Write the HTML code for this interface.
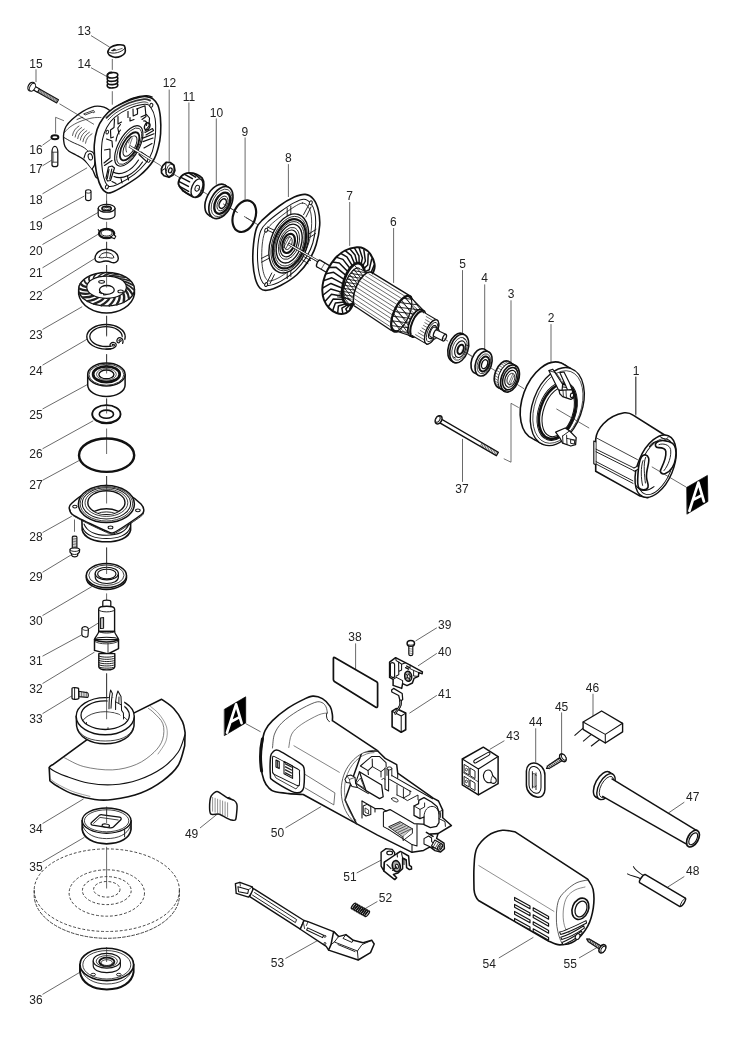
<!DOCTYPE html>
<html><head><meta charset="utf-8"><title>Parts diagram</title>
<style>
html,body{margin:0;padding:0;background:#fff;}
svg{display:block;font-family:"Liberation Sans",sans-serif;will-change:transform;}
text{fill:#222;}
</style></head><body>
<svg width="730" height="1041" viewBox="0 0 730 1041">
<rect width="730" height="1041" fill="#fff"/>
<line x1="91" y1="35.6" x2="109.6" y2="47.1" stroke="#2a2a2a" stroke-width="0.7" />
<line x1="91" y1="67.7" x2="107.1" y2="76.7" stroke="#2a2a2a" stroke-width="0.7" />
<line x1="36" y1="69.3" x2="36" y2="82.1" stroke="#2a2a2a" stroke-width="0.7" />
<line x1="42.5" y1="193.8" x2="87.1" y2="167.8" stroke="#2a2a2a" stroke-width="0.7" />
<line x1="42.5" y1="219" x2="84.4" y2="196" stroke="#2a2a2a" stroke-width="0.7" />
<line x1="42.5" y1="244.5" x2="98" y2="212.5" stroke="#2a2a2a" stroke-width="0.7" />
<line x1="42.5" y1="267.8" x2="99.2" y2="233.6" stroke="#2a2a2a" stroke-width="0.7" />
<line x1="42.5" y1="291" x2="95.3" y2="258.2" stroke="#2a2a2a" stroke-width="0.7" />
<line x1="42.5" y1="329.5" x2="82.2" y2="306.7" stroke="#2a2a2a" stroke-width="0.7" />
<line x1="42.5" y1="365.2" x2="87.1" y2="339.2" stroke="#2a2a2a" stroke-width="0.7" />
<line x1="42.5" y1="409" x2="87.7" y2="384.4" stroke="#2a2a2a" stroke-width="0.7" />
<line x1="42.5" y1="448.8" x2="93.2" y2="420.8" stroke="#2a2a2a" stroke-width="0.7" />
<line x1="42.5" y1="480.3" x2="79.5" y2="460.3" stroke="#2a2a2a" stroke-width="0.7" />
<line x1="42.5" y1="615.6" x2="91.8" y2="586.6" stroke="#2a2a2a" stroke-width="0.7" />
<line x1="42.5" y1="656.2" x2="81.4" y2="635.1" stroke="#2a2a2a" stroke-width="0.7" />
<line x1="42.5" y1="683.6" x2="94.5" y2="652.1" stroke="#2a2a2a" stroke-width="0.7" />
<line x1="42.5" y1="713.7" x2="71.8" y2="695.9" stroke="#2a2a2a" stroke-width="0.7" />
<line x1="42.5" y1="532.6" x2="71.8" y2="516.2" stroke="#2a2a2a" stroke-width="0.7" />
<line x1="42.5" y1="572.3" x2="71.8" y2="554.5" stroke="#2a2a2a" stroke-width="0.7" />
<line x1="42.5" y1="823.6" x2="83.6" y2="798.9" stroke="#2a2a2a" stroke-width="0.7" />
<line x1="42.5" y1="861.9" x2="84.4" y2="837.3" stroke="#2a2a2a" stroke-width="0.7" />
<line x1="42.5" y1="994.4" x2="79.5" y2="972.5" stroke="#2a2a2a" stroke-width="0.7" />
<line x1="89" y1="628.8" x2="99.2" y2="622.5" stroke="#2a2a2a" stroke-width="0.7" />
<line x1="169.2" y1="89.6" x2="169.2" y2="161.9" stroke="#2a2a2a" stroke-width="0.7" />
<line x1="188.9" y1="102.5" x2="188.9" y2="172.3" stroke="#2a2a2a" stroke-width="0.7" />
<line x1="216.3" y1="118.4" x2="216.3" y2="184.7" stroke="#2a2a2a" stroke-width="0.7" />
<line x1="245.1" y1="137.5" x2="245.1" y2="199.7" stroke="#2a2a2a" stroke-width="0.7" />
<line x1="288.4" y1="164.1" x2="288.4" y2="197" stroke="#2a2a2a" stroke-width="0.7" />
<line x1="349.7" y1="202" x2="349.7" y2="245.9" stroke="#2a2a2a" stroke-width="0.7" />
<line x1="393.6" y1="228" x2="393.6" y2="282.9" stroke="#2a2a2a" stroke-width="0.7" />
<line x1="462.5" y1="270.1" x2="462.5" y2="332.9" stroke="#2a2a2a" stroke-width="0.7" />
<line x1="484.7" y1="284.4" x2="484.7" y2="348.8" stroke="#2a2a2a" stroke-width="0.7" />
<line x1="511" y1="300.3" x2="511" y2="363.8" stroke="#2a2a2a" stroke-width="0.7" />
<line x1="551" y1="324.1" x2="551" y2="364" stroke="#2a2a2a" stroke-width="0.7" />
<line x1="635.8" y1="376.7" x2="635.8" y2="414.5" stroke="#2a2a2a" stroke-width="0.7" />
<line x1="462.5" y1="438.9" x2="462.5" y2="481.9" stroke="#2a2a2a" stroke-width="0.7" />
<line x1="355.6" y1="643.4" x2="355.6" y2="669.4" stroke="#2a2a2a" stroke-width="0.7" />
<line x1="436.8" y1="627.8" x2="415.5" y2="641" stroke="#2a2a2a" stroke-width="0.7" />
<line x1="436.8" y1="653.4" x2="418" y2="665.9" stroke="#2a2a2a" stroke-width="0.7" />
<line x1="436.8" y1="695.4" x2="409.4" y2="713.2" stroke="#2a2a2a" stroke-width="0.7" />
<line x1="285.5" y1="827.9" x2="321.1" y2="806.6" stroke="#2a2a2a" stroke-width="0.7" />
<line x1="200" y1="828" x2="217.8" y2="813.7" stroke="#2a2a2a" stroke-width="0.7" />
<line x1="356.7" y1="873" x2="385.2" y2="858" stroke="#2a2a2a" stroke-width="0.7" />
<line x1="377.4" y1="901.5" x2="362" y2="910.4" stroke="#2a2a2a" stroke-width="0.7" />
<line x1="285.5" y1="958.5" x2="319.3" y2="939.6" stroke="#2a2a2a" stroke-width="0.7" />
<line x1="504.4" y1="740.7" x2="489.7" y2="749.4" stroke="#2a2a2a" stroke-width="0.7" />
<line x1="535.7" y1="728.3" x2="535.7" y2="762.5" stroke="#2a2a2a" stroke-width="0.7" />
<line x1="561.6" y1="712.4" x2="561.6" y2="753.4" stroke="#2a2a2a" stroke-width="0.7" />
<line x1="593" y1="693.8" x2="593" y2="719.6" stroke="#2a2a2a" stroke-width="0.7" />
<line x1="684.3" y1="802.2" x2="668.4" y2="813" stroke="#2a2a2a" stroke-width="0.7" />
<line x1="684.3" y1="876.5" x2="667.3" y2="887.3" stroke="#2a2a2a" stroke-width="0.7" />
<line x1="498.8" y1="958" x2="533.4" y2="937.3" stroke="#2a2a2a" stroke-width="0.7" />
<line x1="579" y1="958" x2="598.1" y2="946.9" stroke="#2a2a2a" stroke-width="0.7" />
<path d="M518.4 407.4 L511 403.3 L511 462.2 L504.1 458.9" fill="none" stroke="#333" stroke-width="0.69" stroke-linejoin="round" stroke-linecap="round" />
<path d="M107.9 51.4 C108.25 50.47 109.08 48.27 110.5 47.3 C111.92 46.32 115.44 45.2 117.4 44.9 C119.37 44.6 122.44 44.83 123.6 45.3 C124.75 45.77 124.9 46.88 125.1 48 C125.3 49.12 125.55 51.57 124.9 52.8 C124.26 54.03 122.33 55.53 120.8 56.2 C119.27 56.88 116.34 57.41 114.7 57.3 C113.06 57.19 110.88 56.07 109.9 55.5 C108.93 54.93 108.5 54.12 108.2 53.5 C107.9 52.88 107.56 52.33 107.9 51.4 Z" fill="#fff" stroke="#111" stroke-width="1.61" stroke-linejoin="round" stroke-linecap="round" />
<path d="M108.1 51.8 C110 53.2 113.6 53.6 117.4 52.6 C120.8 51.6 123.4 50.2 125 48.2" fill="none" stroke="#111" stroke-width="0.92" stroke-linejoin="round" stroke-linecap="round" />
<path d="M112 50.6 C112.6 49.4 114.4 48.8 115.4 49.4 C114.8 50.6 113.2 51.2 112 50.6 Z" fill="#222" stroke="#111" stroke-width="0.92" stroke-linejoin="round" stroke-linecap="round" />
<path d="M115.4 50.6 L122.2 48.4" fill="none" stroke="#111" stroke-width="0.69" stroke-linejoin="round" stroke-linecap="round" />
<line x1="112.3" y1="59" x2="112.3" y2="69.9" stroke="#2a2a2a" stroke-width="0.7" />
<ellipse cx="112.5" cy="85.2" rx="5.3" ry="2.7" fill="#fff" stroke="#111" stroke-width="1.61" transform="rotate(-4 112.5 85.2)" />
<ellipse cx="112.5" cy="81.9" rx="5.3" ry="2.7" fill="#fff" stroke="#111" stroke-width="1.61" transform="rotate(-4 112.5 81.9)" />
<ellipse cx="112.5" cy="78.6" rx="5.3" ry="2.7" fill="#fff" stroke="#111" stroke-width="1.61" transform="rotate(-4 112.5 78.6)" />
<ellipse cx="112.5" cy="75.3" rx="5.3" ry="2.7" fill="#fff" stroke="#111" stroke-width="1.61" transform="rotate(-4 112.5 75.3)" />
<path d="M107.6 77.4 C106.6 74 109.4 72.2 111.4 72.4" fill="none" stroke="#111" stroke-width="1.61" stroke-linejoin="round" stroke-linecap="round" />
<line x1="112.3" y1="91.2" x2="112.3" y2="104.7" stroke="#2a2a2a" stroke-width="0.7" />
<g transform="translate(31.5 86.6) rotate(29.5)">
<path d="M2 -1.9 L30 -1.9 L30 1.9 L2 1.9 Z" fill="#bbb" stroke="#111" stroke-width="1.03" stroke-linejoin="round" stroke-linecap="round" />
<line x1="8" y1="-1.9" x2="8.6" y2="1.9" stroke="#333" stroke-width="0.5" />
<line x1="9.7" y1="-1.9" x2="10.3" y2="1.9" stroke="#333" stroke-width="0.5" />
<line x1="11.4" y1="-1.9" x2="12" y2="1.9" stroke="#333" stroke-width="0.5" />
<line x1="13.1" y1="-1.9" x2="13.7" y2="1.9" stroke="#333" stroke-width="0.5" />
<line x1="14.8" y1="-1.9" x2="15.4" y2="1.9" stroke="#333" stroke-width="0.5" />
<line x1="16.5" y1="-1.9" x2="17.1" y2="1.9" stroke="#333" stroke-width="0.5" />
<line x1="18.2" y1="-1.9" x2="18.8" y2="1.9" stroke="#333" stroke-width="0.5" />
<line x1="19.9" y1="-1.9" x2="20.5" y2="1.9" stroke="#333" stroke-width="0.5" />
<line x1="21.6" y1="-1.9" x2="22.2" y2="1.9" stroke="#333" stroke-width="0.5" />
<line x1="23.3" y1="-1.9" x2="23.9" y2="1.9" stroke="#333" stroke-width="0.5" />
<line x1="25" y1="-1.9" x2="25.6" y2="1.9" stroke="#333" stroke-width="0.5" />
<line x1="26.7" y1="-1.9" x2="27.3" y2="1.9" stroke="#333" stroke-width="0.5" />
<line x1="28.4" y1="-1.9" x2="29" y2="1.9" stroke="#333" stroke-width="0.5" />
<path d="M2 -1.9 L8 -1.9 L8 1.9 L2 1.9 Z" fill="#fff" stroke="#111" stroke-width="1.03" stroke-linejoin="round" stroke-linecap="round" />
<ellipse cx="0" cy="0" rx="3.2" ry="4.6" fill="#fff" stroke="#111" stroke-width="1.26" />
<ellipse cx="1.2" cy="0" rx="2.6" ry="4.2" fill="#fff" stroke="#111" stroke-width="0.92" />
</g>
<path d="M55.6 133 L55.6 117.3 L63.6 120.6" fill="none" stroke="#333" stroke-width="0.69" stroke-linejoin="round" stroke-linecap="round" />
<line x1="42.5" y1="145.2" x2="50.7" y2="139.4" stroke="#2a2a2a" stroke-width="0.7" />
<line x1="42.5" y1="165.8" x2="51.5" y2="160.3" stroke="#2a2a2a" stroke-width="0.7" />
<ellipse cx="54.9" cy="137.2" rx="3.5" ry="2" fill="#fff" stroke="#111" stroke-width="1.95" />
<path d="M52 151.8 C52 148.8 53.4 146.4 54.9 146.4 C56.4 146.4 57.8 148.8 57.8 151.8 L57.8 165 C57.8 167.2 52 167.2 52 165 Z" fill="#fff" stroke="#111" stroke-width="1.26" stroke-linejoin="round" stroke-linecap="round" />
<line x1="52" y1="152.2" x2="57.8" y2="152.2" stroke="#222" stroke-width="0.8" />
<line x1="52" y1="162.2" x2="57.8" y2="162.2" stroke="#222" stroke-width="0.8" />
<line x1="53.6" y1="152.2" x2="53.6" y2="162.2" stroke="#222" stroke-width="0.5" />
<path d="M112 112 C110.67 111.2 106.93 108.13 104 107.2 C101.07 106.27 97.92 105.7 94.4 106.4 C90.88 107.1 86.63 109.22 82.9 111.4 C79.17 113.58 74.82 116.98 72 119.5 C69.18 122.02 67.37 124.25 66 126.5 C64.63 128.75 64.2 130.75 63.8 133 C63.4 135.25 63.4 137.75 63.6 140 C63.8 142.25 64.1 144.63 65 146.5 C65.9 148.37 67.17 149.78 69 151.2 C70.83 152.62 73.67 153.7 76 155 C78.33 156.3 81 157.5 83 159 C85 160.5 86.38 162.17 88 164 C89.62 165.83 91.2 167.67 92.7 170 C94.2 172.33 95.12 178 97 178 C98.88 178 101.83 176.33 104 170 C106.17 163.67 109 145 110 140 Z" fill="#fff" stroke="#111" stroke-width="1.38" stroke-linejoin="round" stroke-linecap="round" />
<path d="M64 137.5 C65.33 138.25 68.83 140.42 72 142 C75.17 143.58 80.33 145.5 83 147 C85.67 148.5 87.17 150.33 88 151" fill="none" stroke="#111" stroke-width="0.92" stroke-linejoin="round" stroke-linecap="round" />
<path d="M64 133 C65 132 67.33 128.92 70 127 C72.67 125.08 76.33 123 80 121.5 C83.67 120 88.5 118.67 92 118 C95.5 117.33 99.5 117.58 101 117.5" fill="none" stroke="#111" stroke-width="0.69" stroke-linejoin="round" stroke-linecap="round" />
<line x1="59.5" y1="103.8" x2="94" y2="124.4" stroke="#2a2a2a" stroke-width="0.7" />
<path d="M72.5 135.5 C73 131.5 75.5 128 79 126" fill="none" stroke="#111" stroke-width="0.69" stroke-linejoin="round" stroke-linecap="round" />
<path d="M75.1 137.05 C75.6 133.05 78.1 129.55 81.6 127.55" fill="none" stroke="#111" stroke-width="0.69" stroke-linejoin="round" stroke-linecap="round" />
<path d="M77.7 138.6 C78.2 134.6 80.7 131.1 84.2 129.1" fill="none" stroke="#111" stroke-width="0.69" stroke-linejoin="round" stroke-linecap="round" />
<path d="M80.3 140.15 C80.8 136.15 83.3 132.65 86.8 130.65" fill="none" stroke="#111" stroke-width="0.69" stroke-linejoin="round" stroke-linecap="round" />
<path d="M82.9 141.7 C83.4 137.7 85.9 134.2 89.4 132.2" fill="none" stroke="#111" stroke-width="0.69" stroke-linejoin="round" stroke-linecap="round" />
<path d="M85.5 143.25 C86 139.25 88.5 135.75 92 133.75" fill="none" stroke="#111" stroke-width="0.69" stroke-linejoin="round" stroke-linecap="round" />
<path d="M84 113.8 L93.5 110.3 L94.6 112.2 L93.3 112.8 L92.8 112 L85.5 114.8 Z" fill="none" stroke="#111" stroke-width="0.8" stroke-linejoin="round" stroke-linecap="round" />
<path d="M77 119.5 L82.5 117.2 L83 118.3" fill="none" stroke="#111" stroke-width="0.8" stroke-linejoin="round" stroke-linecap="round" />
<path d="M84 158 C84.33 157.08 85 153.67 86 152.5 C87 151.33 88.7 150.83 90 151 C91.3 151.17 92.97 152.25 93.8 153.5 C94.63 154.75 94.88 156.58 95 158.5 C95.12 160.42 95 163.25 94.5 165 C94 166.75 92.42 168.33 92 169" fill="#fff" stroke="#111" stroke-width="1.15" stroke-linejoin="round" stroke-linecap="round" />
<ellipse cx="90.3" cy="156.8" rx="2.1" ry="3.2" fill="#fff" stroke="#111" stroke-width="1.03" transform="rotate(-15 90.3 156.8)" />
<path d="M105.5 118.5 C106.25 117.33 107.58 113.83 110 111.5 C112.42 109.17 116.17 106.72 120 104.5 C123.83 102.28 128.67 99.68 133 98.2 C137.33 96.72 142.83 95.8 146 95.6 C149.17 95.4 151 96.77 152 97" fill="#fff" stroke="#111" stroke-width="1.38" stroke-linejoin="round" stroke-linecap="round" />
<path d="M146.4 96.6 C148.58 96.88 150.98 97.35 152.9 98.8 C154.82 100.25 156.65 102.2 157.9 105.3 C159.15 108.4 159.95 112.65 160.4 117.4 C160.85 122.15 160.93 128.87 160.6 133.8 C160.27 138.73 159.68 142.43 158.4 147 C157.12 151.57 156 156.45 152.9 161.2 C149.8 165.95 144.72 171.3 139.8 175.5 C134.88 179.7 128.15 183.57 123.4 186.4 C118.65 189.23 114.13 191.48 111.3 192.5 C108.47 193.52 108.05 193.33 106.4 192.5 C104.75 191.67 102.95 190.33 101.4 187.5 C99.85 184.67 98.18 180.07 97.1 175.5 C96.02 170.93 95.37 165.22 94.9 160.1 C94.43 154.98 93.93 149.9 94.3 144.8 C94.67 139.7 95.55 134.07 97.1 129.5 C98.65 124.93 100.87 120.97 103.6 117.4 C106.33 113.83 109.3 110.93 113.5 108.1 C117.7 105.27 124.42 102.23 128.8 100.4 C133.18 98.57 136.87 97.73 139.8 97.1 C142.73 96.47 144.22 96.32 146.4 96.6 Z" fill="#fff" stroke="#111" stroke-width="1.61" stroke-linejoin="round" stroke-linecap="round" />
<path d="M144.7 104.2 C148.37 104.02 149.07 105.12 150.8 107.5 C152.53 109.88 154.35 113.75 155.1 118.5 C155.85 123.25 155.75 130.52 155.3 136 C154.85 141.48 153.88 147.02 152.4 151.4 C150.92 155.78 149.42 158.47 146.4 162.3 C143.38 166.13 139.05 170.75 134.3 174.4 C129.55 178.05 122.1 182.2 117.9 184.2 C113.7 186.2 111.2 186.77 109.1 186.4 C107 186.03 106.4 184.55 105.3 182 C104.2 179.45 103.15 175.47 102.5 171.1 C101.85 166.73 101.4 161.1 101.4 155.8 C101.4 150.5 101.58 144.05 102.5 139.3 C103.42 134.55 104.88 130.95 106.9 127.3 C108.92 123.65 110.95 120.52 114.6 117.4 C118.25 114.28 123.78 110.8 128.8 108.6 C133.82 106.4 141.03 104.38 144.7 104.2 Z" fill="#fff" stroke="#111" stroke-width="1.03" stroke-linejoin="round" stroke-linecap="round" />
<path d="M106.5 117.8 C107.92 116.58 111.28 112.97 115 110.5 C118.72 108.03 123.97 104.88 128.8 103 C133.63 101.12 140.47 99.62 144 99.2 C147.53 98.78 149 100.28 150 100.5" fill="none" stroke="#333" stroke-width="1.84" stroke-linejoin="round" stroke-linecap="round" />
<path d="M108 120 C109.33 118.8 112.5 115.17 116 112.8 C119.5 110.43 124.5 107.6 129 105.8 C133.5 104 139.83 102.47 143 102 C146.17 101.53 147.17 102.83 148 103" fill="none" stroke="#111" stroke-width="0.8" stroke-linejoin="round" stroke-linecap="round" />
<ellipse cx="151.3" cy="105.3" rx="1.5" ry="2" fill="#fff" stroke="#111" stroke-width="1.03" transform="rotate(20 151.3 105.3)" />
<ellipse cx="106.9" cy="187" rx="1.5" ry="2" fill="#fff" stroke="#111" stroke-width="1.03" transform="rotate(20 106.9 187)" />
<ellipse cx="107.3" cy="132.2" rx="1.3" ry="1.9" fill="#fff" stroke="#111" stroke-width="0.92" transform="rotate(20 107.3 132.2)" />
<ellipse cx="148.7" cy="160.5" rx="1.3" ry="1.9" fill="#fff" stroke="#111" stroke-width="0.92" transform="rotate(20 148.7 160.5)" />
<path d="M114.5 119 L114 127.5 L110.5 130 L110.8 138 L113.5 137" fill="none" stroke="#111" stroke-width="1.15" stroke-linejoin="round" stroke-linecap="round" />
<path d="M118 116.5 L118 124 L121.5 122" fill="none" stroke="#111" stroke-width="1.15" stroke-linejoin="round" stroke-linecap="round" />
<path d="M128 111.5 L128 117.5" fill="none" stroke="#111" stroke-width="1.15" stroke-linejoin="round" stroke-linecap="round" />
<path d="M133 109 L133.2 116 L137.5 114 L137.5 108.5" fill="none" stroke="#111" stroke-width="1.15" stroke-linejoin="round" stroke-linecap="round" />
<path d="M141 117 L146.5 114.5 L149.5 118 L149 126 L145 131" fill="none" stroke="#111" stroke-width="1.15" stroke-linejoin="round" stroke-linecap="round" />
<path d="M143.5 121 C146 120.5 147.5 122.5 146.5 125.5" fill="none" stroke="#111" stroke-width="1.15" stroke-linejoin="round" stroke-linecap="round" />
<path d="M145 132.5 L152.5 128.5 L153.5 130.5 L146 135" fill="none" stroke="#111" stroke-width="1.15" stroke-linejoin="round" stroke-linecap="round" />
<path d="M144 148 L152 143.5" fill="none" stroke="#111" stroke-width="1.15" stroke-linejoin="round" stroke-linecap="round" />
<path d="M141 152 L149.5 158" fill="none" stroke="#111" stroke-width="1.15" stroke-linejoin="round" stroke-linecap="round" />
<path d="M139 154.5 L146.5 161.5" fill="none" stroke="#111" stroke-width="1.15" stroke-linejoin="round" stroke-linecap="round" />
<path d="M104.5 150 L110 149 L110 158 L104 163" fill="none" stroke="#111" stroke-width="1.15" stroke-linejoin="round" stroke-linecap="round" />
<path d="M104.5 165.5 L112 160.5" fill="none" stroke="#111" stroke-width="1.15" stroke-linejoin="round" stroke-linecap="round" />
<path d="M106 178 L108.5 167 L112 166 L114.5 168 L110.5 180.5 L107.5 181 Z" fill="none" stroke="#111" stroke-width="1.15" stroke-linejoin="round" stroke-linecap="round" />
<path d="M109 169.5 L107.3 178.5" fill="none" stroke="#111" stroke-width="1.15" stroke-linejoin="round" stroke-linecap="round" />
<path d="M111.8 169 L109.7 179" fill="none" stroke="#111" stroke-width="1.15" stroke-linejoin="round" stroke-linecap="round" />
<path d="M113 172 C120 176 131 172 138.5 160" fill="none" stroke="#111" stroke-width="1.15" stroke-linejoin="round" stroke-linecap="round" />
<path d="M114 176.5 C122 180 134 175 142.5 162" fill="none" stroke="#111" stroke-width="1.15" stroke-linejoin="round" stroke-linecap="round" />
<path d="M121 178.5 L122 183" fill="none" stroke="#111" stroke-width="1.15" stroke-linejoin="round" stroke-linecap="round" />
<path d="M127.5 176 L128.5 180" fill="none" stroke="#111" stroke-width="1.15" stroke-linejoin="round" stroke-linecap="round" />
<path d="M112 181.5 L116 183.5" fill="none" stroke="#111" stroke-width="1.15" stroke-linejoin="round" stroke-linecap="round" />
<path d="M119 134 L117.8 128 L120.5 124.5" fill="none" stroke="#111" stroke-width="1.15" stroke-linejoin="round" stroke-linecap="round" />
<path d="M136.5 109 L145 105.8 L146 116.5 L142 119.5" fill="none" stroke="#111" stroke-width="1.15" stroke-linejoin="round" stroke-linecap="round" />
<path d="M130 117.5 L130 121 L134 119.5" fill="none" stroke="#111" stroke-width="1.15" stroke-linejoin="round" stroke-linecap="round" />
<path d="M142.2 138.4 L154 133.8 M143 141.6 L153 138" fill="none" stroke="#111" stroke-width="1.15" stroke-linejoin="round" stroke-linecap="round" />
<path d="M106.5 139 L112 141 L112.5 147" fill="none" stroke="#111" stroke-width="1.15" stroke-linejoin="round" stroke-linecap="round" />
<path d="M116 141 C116.5 137 118 133 120.5 130" fill="none" stroke="#111" stroke-width="1.15" stroke-linejoin="round" stroke-linecap="round" />
<ellipse cx="147.2" cy="126.4" rx="2.6" ry="3.6" fill="none" stroke="#111" stroke-width="1.38" transform="rotate(20 147.2 126.4)" />
<ellipse cx="128.8" cy="145.9" rx="10.3" ry="22.5" fill="#fff" stroke="#111" stroke-width="1.15" transform="rotate(29 128.8 145.9)" />
<ellipse cx="129.2" cy="146.2" rx="8.8" ry="20.3" fill="#fff" stroke="#111" stroke-width="0.8" transform="rotate(29 129.2 146.2)" />
<ellipse cx="129.6" cy="146.3" rx="7" ry="15.6" fill="#fff" stroke="#111" stroke-width="1.84" transform="rotate(29 129.6 146.3)" />
<ellipse cx="130" cy="146.1" rx="5" ry="11.3" fill="#fff" stroke="#111" stroke-width="0.92" transform="rotate(29 130 146.1)" />
<path d="M126.5 152 C124.5 147 127 139 131.5 136.5" fill="none" stroke="#111" stroke-width="0.8" stroke-linejoin="round" stroke-linecap="round" />
<path d="M128.5 143 L130.5 136.8 M130 144.5 L132.3 138" fill="none" stroke="#111" stroke-width="0.57" stroke-linejoin="round" stroke-linecap="round" />
<line x1="129.2" y1="146.1" x2="152" y2="160.2" stroke="#111" stroke-width="2.6" />
<line x1="129.6" y1="146.35" x2="152.3" y2="160.4" stroke="#fff" stroke-width="1.3" />
<line x1="152" y1="160.2" x2="160.8" y2="165.6" stroke="#2a2a2a" stroke-width="0.7" />
<line x1="106.6" y1="193.5" x2="106.6" y2="204.8" stroke="#2a2a2a" stroke-width="0.7" />
<line x1="106.6" y1="221.8" x2="106.6" y2="228.9" stroke="#2a2a2a" stroke-width="0.7" />
<line x1="106.6" y1="241.8" x2="106.6" y2="256.8" stroke="#2a2a2a" stroke-width="0.7" />
<line x1="106.6" y1="265" x2="106.6" y2="287" stroke="#2a2a2a" stroke-width="0.7" />
<line x1="106.6" y1="315.8" x2="106.6" y2="336.5" stroke="#2a2a2a" stroke-width="0.7" />
<line x1="106.6" y1="354.2" x2="106.6" y2="373.5" stroke="#2a2a2a" stroke-width="0.7" />
<line x1="106.6" y1="398.5" x2="106.6" y2="410.5" stroke="#2a2a2a" stroke-width="0.7" />
<line x1="106.6" y1="428.5" x2="106.6" y2="454" stroke="#2a2a2a" stroke-width="0.7" />
<line x1="106.6" y1="476" x2="106.6" y2="520" stroke="#2a2a2a" stroke-width="0.7" />
<line x1="106.6" y1="547.5" x2="106.6" y2="575" stroke="#2a2a2a" stroke-width="0.7" />
<line x1="106.6" y1="593.4" x2="106.6" y2="600" stroke="#2a2a2a" stroke-width="0.7" />
<line x1="106.6" y1="673.4" x2="106.6" y2="719.2" stroke="#2a2a2a" stroke-width="0.7" />
<line x1="106.6" y1="846.8" x2="106.6" y2="888.5" stroke="#2a2a2a" stroke-width="0.7" />
<path d="M85.6 191.5 C85.6 189.2 91 189.2 91 191.5 L91 198.8 C91 201.2 85.6 201.2 85.6 198.8 Z" fill="#fff" stroke="#111" stroke-width="1.15" stroke-linejoin="round" stroke-linecap="round" />
<path d="M85.6 192.3 C86.5 193.6 90 193.6 91 192.3" fill="none" stroke="#111" stroke-width="0.8" stroke-linejoin="round" stroke-linecap="round" />
<path d="M98.2 208.3 L98.2 215.2 A8.4 3.9 0 0 0 115 215.2 L115 208.3 Z" fill="#fff" stroke="#111" stroke-width="1.26" stroke-linejoin="round" stroke-linecap="round" />
<ellipse cx="106.6" cy="208.3" rx="8.4" ry="3.9" fill="#fff" stroke="#111" stroke-width="1.26" />
<ellipse cx="106.6" cy="208.4" rx="4.6" ry="2.1" fill="#fff" stroke="#111" stroke-width="1.72" />
<ellipse cx="106.6" cy="208.6" rx="2.6" ry="1.2" fill="#fff" stroke="#111" stroke-width="0.8" />
<line x1="106.6" y1="200.7" x2="106.6" y2="208.4" stroke="#2a2a2a" stroke-width="0.7" />
<ellipse cx="106.6" cy="233.4" rx="7.6" ry="4.6" fill="#fff" stroke="#111" stroke-width="2.3" />
<ellipse cx="106.6" cy="233" rx="5.6" ry="3.1" fill="#fff" stroke="#111" stroke-width="0.92" />
<path d="M111.5 237.5 L114.5 238.8 L115.8 236.3 L113.5 234.8" fill="#fff" stroke="#111" stroke-width="1.03" stroke-linejoin="round" stroke-linecap="round" />
<path d="M99.3 231.2 L98.2 229.6" fill="none" stroke="#111" stroke-width="1.03" stroke-linejoin="round" stroke-linecap="round" />
<path d="M95 258.5 C95 253 100 249.3 106.5 249.3 C113 249.3 118.3 253.5 118.3 258.5 C118.3 262 114.5 263.5 111.5 262.3 C108.5 261 105 260.6 101.5 261.8 C98 263 95 261.5 95 258.5 Z" fill="#fff" stroke="#111" stroke-width="1.38" stroke-linejoin="round" stroke-linecap="round" />
<path d="M99.3 257.3 C100 254.3 103 252.6 106.5 252.6 C110 252.6 113.3 254.5 114 257.5 C112 259 109.5 257.5 106.5 257.3 C103.5 257.2 101.5 258.8 99.3 257.3 Z" fill="#fff" stroke="#111" stroke-width="0.92" stroke-linejoin="round" stroke-linecap="round" />
<line x1="106.6" y1="241.8" x2="106.6" y2="256.8" stroke="#2a2a2a" stroke-width="0.7" />
<path d="M78.65 289.2 L78.65 294.2 C80.55 306.2 94.55 313 106.55 313 C118.55 313 132.55 306.2 134.45 294.2 L134.45 289.2 Z" fill="#fff" stroke="#111" stroke-width="1.49" stroke-linejoin="round" stroke-linecap="round" />
<ellipse cx="106.55" cy="289.2" rx="27.9" ry="16.7" fill="#fff" stroke="#111" stroke-width="1.38" />
<path d="M126.45 287.2 Q129.93 289.57 132.57 294.51" fill="none" stroke="#222" stroke-width="2.3" stroke-linejoin="round" stroke-linecap="round" />
<path d="M125.64 290.36 Q128.32 293.35 129 298.67" fill="none" stroke="#222" stroke-width="2.3" stroke-linejoin="round" stroke-linecap="round" />
<path d="M123.29 293.26 Q124.95 296.72 123.62 302.06" fill="none" stroke="#222" stroke-width="2.3" stroke-linejoin="round" stroke-linecap="round" />
<path d="M119.58 295.66 Q120.09 299.4 116.85 304.41" fill="none" stroke="#222" stroke-width="2.3" stroke-linejoin="round" stroke-linecap="round" />
<path d="M114.82 297.39 Q114.13 301.17 109.25 305.52" fill="none" stroke="#222" stroke-width="2.3" stroke-linejoin="round" stroke-linecap="round" />
<path d="M109.38 298.29 Q107.56 301.89 101.43 305.31" fill="none" stroke="#222" stroke-width="2.3" stroke-linejoin="round" stroke-linecap="round" />
<path d="M103.72 298.29 Q100.9 301.5 94.03 303.8" fill="none" stroke="#222" stroke-width="2.3" stroke-linejoin="round" stroke-linecap="round" />
<path d="M98.28 297.39 Q94.7 300.03 87.64 301.11" fill="none" stroke="#222" stroke-width="2.3" stroke-linejoin="round" stroke-linecap="round" />
<path d="M93.52 295.66 Q89.46 297.61 82.78 297.45" fill="none" stroke="#222" stroke-width="2.3" stroke-linejoin="round" stroke-linecap="round" />
<path d="M89.81 293.26 Q85.61 294.42 79.85 293.12" fill="none" stroke="#222" stroke-width="2.3" stroke-linejoin="round" stroke-linecap="round" />
<path d="M87.46 290.36 Q83.45 290.73 79.08 288.47" fill="none" stroke="#222" stroke-width="2.3" stroke-linejoin="round" stroke-linecap="round" />
<path d="M86.65 287.2 Q83.17 286.83 80.53 283.89" fill="none" stroke="#222" stroke-width="2.3" stroke-linejoin="round" stroke-linecap="round" />
<path d="M87.46 284.04 Q84.78 283.05 84.1 279.73" fill="none" stroke="#222" stroke-width="1.61" stroke-linejoin="round" stroke-linecap="round" />
<path d="M89.81 281.14 Q88.15 279.68 89.48 276.34" fill="none" stroke="#222" stroke-width="1.61" stroke-linejoin="round" stroke-linecap="round" />
<path d="M93.52 278.74 Q93.01 277 96.25 273.99" fill="none" stroke="#222" stroke-width="1.61" stroke-linejoin="round" stroke-linecap="round" />
<path d="M98.28 277.01 Q98.97 275.23 103.85 272.88" fill="none" stroke="#222" stroke-width="1.61" stroke-linejoin="round" stroke-linecap="round" />
<path d="M103.72 276.11 Q105.54 274.51 111.67 273.09" fill="none" stroke="#222" stroke-width="1.61" stroke-linejoin="round" stroke-linecap="round" />
<path d="M109.38 276.11 Q112.2 274.9 119.07 274.6" fill="none" stroke="#222" stroke-width="1.61" stroke-linejoin="round" stroke-linecap="round" />
<path d="M114.82 277.01 Q118.4 276.37 125.46 277.29" fill="none" stroke="#222" stroke-width="1.61" stroke-linejoin="round" stroke-linecap="round" />
<path d="M119.58 278.74 Q123.64 278.79 130.32 280.95" fill="none" stroke="#222" stroke-width="1.61" stroke-linejoin="round" stroke-linecap="round" />
<path d="M123.29 281.14 Q127.49 281.98 133.25 285.28" fill="none" stroke="#222" stroke-width="1.61" stroke-linejoin="round" stroke-linecap="round" />
<path d="M125.64 284.04 Q129.65 285.67 134.02 289.93" fill="none" stroke="#222" stroke-width="1.61" stroke-linejoin="round" stroke-linecap="round" />
<ellipse cx="106.55" cy="287.2" rx="19.8" ry="11.1" fill="#fff" stroke="#111" stroke-width="1.15" />
<ellipse cx="106.85" cy="289.9" rx="7.4" ry="4.4" fill="#fff" stroke="#111" stroke-width="1.26" />
<path d="M100.3 291.5 L99.4 292.6 L101.5 293.6 M103.5 293.9 L103.8 295 L106 294.7" fill="none" stroke="#111" stroke-width="1.03" stroke-linejoin="round" stroke-linecap="round" />
<ellipse cx="101.6" cy="281.8" rx="2.9" ry="1.4" fill="#fff" stroke="#111" stroke-width="1.03" />
<ellipse cx="120.6" cy="291.4" rx="2.7" ry="1.4" fill="#fff" stroke="#111" stroke-width="1.03" />
<line x1="106.6" y1="265" x2="106.6" y2="287.5" stroke="#2a2a2a" stroke-width="0.7" />
<ellipse cx="106" cy="336.8" rx="19.2" ry="12.3" fill="none" stroke="#111" stroke-width="1.38" />
<ellipse cx="106" cy="336.6" rx="16.2" ry="9.9" fill="none" stroke="#111" stroke-width="1.26" />
<path d="M111.5 340.6 L122 336.4 L127 343 L112.6 351 Z" fill="#fff" stroke="none" stroke-width="0.0" stroke-linejoin="round" stroke-linecap="round" />
<path d="M110.4 348.9 C114 348.6 116.6 346.6 116.2 344.4 C115.8 342.2 112.4 341.8 110.6 343.6 C109.6 344.8 110 346 111 346.4" fill="#fff" stroke="#111" stroke-width="1.26" stroke-linejoin="round" stroke-linecap="round" />
<path d="M122.6 343.4 C123.6 341.4 123 338.4 120.6 337.8 C118.2 337.2 116.4 339.4 117 341.6 C117.4 342.8 118.6 343.2 119.4 342.6" fill="#fff" stroke="#111" stroke-width="1.26" stroke-linejoin="round" stroke-linecap="round" />
<ellipse cx="113.3" cy="345.2" rx="1.2" ry="0.9" fill="#fff" stroke="#111" stroke-width="1.03" />
<ellipse cx="120.1" cy="340.6" rx="1.2" ry="0.9" fill="#fff" stroke="#111" stroke-width="1.03" />
<path d="M110.4 348.9 C109 349.1 107.5 349.1 106 349.1" fill="none" stroke="#111" stroke-width="1.38" stroke-linejoin="round" stroke-linecap="round" />
<line x1="106.6" y1="315.8" x2="106.6" y2="335.5" stroke="#2a2a2a" stroke-width="0.7" />
<path d="M87.7 374.5 L87.7 384.9 A18.7 11.5 0 0 0 125.1 384.9 L125.1 374.5 Z" fill="#fff" stroke="#111" stroke-width="1.49" stroke-linejoin="round" stroke-linecap="round" />
<ellipse cx="106.4" cy="374.5" rx="18.7" ry="11.5" fill="#fff" stroke="#111" stroke-width="1.49" />
<ellipse cx="106.4" cy="374.7" rx="17.4" ry="10.5" fill="#fff" stroke="#111" stroke-width="0.8" />
<ellipse cx="106.4" cy="374.2" rx="13.3" ry="7.9" fill="#fff" stroke="#111" stroke-width="2.76" />
<ellipse cx="106.4" cy="374.3" rx="9.9" ry="5.8" fill="#fff" stroke="#111" stroke-width="0.69" />
<ellipse cx="106.4" cy="374.4" rx="7.5" ry="4.4" fill="#fff" stroke="#111" stroke-width="1.38" />
<line x1="106.6" y1="354.2" x2="106.6" y2="373.5" stroke="#2a2a2a" stroke-width="0.7" />
<ellipse cx="106.4" cy="414.6" rx="14.1" ry="9" fill="#fff" stroke="#111" stroke-width="1.49" />
<ellipse cx="106.4" cy="414" rx="14.1" ry="8.8" fill="#fff" stroke="#111" stroke-width="1.72" />
<ellipse cx="106.4" cy="414.2" rx="7.1" ry="4.1" fill="#fff" stroke="#111" stroke-width="1.61" />
<line x1="106.6" y1="398.5" x2="106.6" y2="413.5" stroke="#2a2a2a" stroke-width="0.7" />
<ellipse cx="106.6" cy="455.2" rx="27.6" ry="16.7" fill="none" stroke="#111" stroke-width="2.42" />
<path d="M81.9 520 L82.2 530 C84 538 95 541.8 106.4 541.8 C118 541.8 129 538 130.6 530 L130.6 520 Z" fill="#fff" stroke="#111" stroke-width="1.61" stroke-linejoin="round" stroke-linecap="round" />
<path d="M82.6 527.5 C85 535 95 538.6 106.4 538.6 C118 538.6 128 535 130.2 527.5" fill="none" stroke="#111" stroke-width="1.03" stroke-linejoin="round" stroke-linecap="round" />
<path d="M84 524 C87 531.5 96 535.2 106.4 535.2 C117 535.2 126 531.5 129 524" fill="none" stroke="#111" stroke-width="1.03" stroke-linejoin="round" stroke-linecap="round" />
<path d="M69.2 507.7 C69.08 506.42 69.69 505.14 71.5 503.5 C73.31 501.86 80.65 495.71 84.7 493.6 C88.75 491.49 101.03 485.26 106.2 485.4 C111.37 485.54 124.94 492.63 129 494.8 C133.06 496.97 139.27 502.2 141 504 C142.73 505.8 143.74 508.97 143.8 510.2 C143.86 511.43 143.81 512.6 141.5 514.5 C139.19 516.4 127.27 524.37 124 526.5 C120.73 528.63 115.19 532.11 113.5 532.8 C111.81 533.49 112.01 533.37 109.5 532.4 C106.99 531.43 96.32 526.59 92 524.5 C87.68 522.41 75.16 516.46 72.5 514.5 C69.84 512.54 69.32 508.98 69.2 507.7 Z" fill="#fff" stroke="#111" stroke-width="1.49" stroke-linejoin="round" stroke-linecap="round" />
<path d="M69.6 509.2 C70 509.94 70.39 513.59 73 515.5 C75.61 517.41 87.74 523.49 92 525.6 C96.26 527.71 106.96 532.63 109.5 533.6 C112.04 534.57 112.05 534.6 113.8 533.9 C115.55 533.2 121.23 529.72 124.5 527.6 C127.77 525.48 139.57 517.54 141.8 515.7 C144.03 513.86 143.39 512.25 143.6 511.8" fill="none" stroke="#111" stroke-width="0.92" stroke-linejoin="round" stroke-linecap="round" />
<ellipse cx="74.9" cy="506.6" rx="2.2" ry="1.4" fill="#fff" stroke="#111" stroke-width="1.03" />
<ellipse cx="137.9" cy="510.3" rx="2.3" ry="1.4" fill="#fff" stroke="#111" stroke-width="1.03" />
<ellipse cx="110.5" cy="527.4" rx="2.4" ry="1.4" fill="#fff" stroke="#111" stroke-width="1.03" />
<ellipse cx="106.4" cy="504" rx="28" ry="18.5" fill="#fff" stroke="#111" stroke-width="1.49" />
<ellipse cx="106.4" cy="503.8" rx="26.2" ry="17.2" fill="#fff" stroke="#111" stroke-width="0.8" />
<ellipse cx="106.4" cy="503.4" rx="24.2" ry="15.6" fill="#fff" stroke="#111" stroke-width="1.03" />
<ellipse cx="106.4" cy="502.8" rx="21.4" ry="13.6" fill="#fff" stroke="#111" stroke-width="0.8" />
<ellipse cx="106.4" cy="502.6" rx="18.6" ry="11.8" fill="#fff" stroke="#111" stroke-width="1.38" />
<clipPath id="c28"><ellipse cx="106.4" cy="502.6" rx="18.2" ry="11.4"/></clipPath>
<g clip-path="url(#c28)">
<ellipse cx="106.4" cy="516" rx="15.2" ry="7.2" fill="#fff" stroke="#111" stroke-width="1.49" />
<ellipse cx="106.4" cy="517.5" rx="12.6" ry="5.6" fill="#fff" stroke="#111" stroke-width="0.92" />
<ellipse cx="106.4" cy="518.2" rx="8.8" ry="3.6" fill="#fff" stroke="#111" stroke-width="1.38" />
</g>
<line x1="106.6" y1="476" x2="106.6" y2="503.5" stroke="#2a2a2a" stroke-width="0.7" />
<line x1="74.5" y1="519.5" x2="74.5" y2="531.8" stroke="#2a2a2a" stroke-width="0.7" />
<path d="M72.3 537 C72.3 535.8 76.9 535.8 76.9 537 L76.9 548 L72.3 548 Z" fill="#fff" stroke="#111" stroke-width="1.15" stroke-linejoin="round" stroke-linecap="round" />
<line x1="72.3" y1="538" x2="76.9" y2="538.6" stroke="#222" stroke-width="0.6" />
<line x1="72.3" y1="539.6" x2="76.9" y2="540.2" stroke="#222" stroke-width="0.6" />
<line x1="72.3" y1="541.2" x2="76.9" y2="541.8" stroke="#222" stroke-width="0.6" />
<line x1="72.3" y1="542.8" x2="76.9" y2="543.4" stroke="#222" stroke-width="0.6" />
<line x1="72.3" y1="544.4" x2="76.9" y2="545" stroke="#222" stroke-width="0.6" />
<line x1="72.3" y1="546" x2="76.9" y2="546.6" stroke="#222" stroke-width="0.6" />
<path d="M70 549.8 C70 547.2 79.6 547.2 79.6 549.8 L79.4 552 C79 553 78 553.3 77.8 553.8 L77.6 555.6 C77 557.2 72.4 557.2 71.8 555.6 L71.6 553.8 C71.3 553.3 70.4 553 70 552 Z" fill="#fff" stroke="#111" stroke-width="1.26" stroke-linejoin="round" stroke-linecap="round" />
<path d="M70 550 C71 552 78.6 552 79.6 550 M71.6 553.8 C73 554.8 76.4 554.8 77.8 553.8" fill="none" stroke="#111" stroke-width="0.92" stroke-linejoin="round" stroke-linecap="round" />
<ellipse cx="106.4" cy="577.4" rx="20.1" ry="12" fill="#fff" stroke="#111" stroke-width="1.61" />
<ellipse cx="106.4" cy="575.6" rx="20.1" ry="12" fill="#fff" stroke="#111" stroke-width="1.49" />
<ellipse cx="106.4" cy="575.2" rx="17.6" ry="10.2" fill="#fff" stroke="#111" stroke-width="0.8" />
<path d="M95.2 573.5 L95.2 577 C95.2 581 100 583.5 106.8 583.5 C113.5 583.5 118.4 581 118.4 577 L118.4 573.5 Z" fill="#fff" stroke="#111" stroke-width="1.15" stroke-linejoin="round" stroke-linecap="round" />
<ellipse cx="106.8" cy="573.5" rx="11.6" ry="6.3" fill="#fff" stroke="#111" stroke-width="1.15" />
<ellipse cx="106.8" cy="574" rx="9.2" ry="4.8" fill="#fff" stroke="#111" stroke-width="1.15" />
<line x1="106.6" y1="547.5" x2="106.6" y2="574" stroke="#2a2a2a" stroke-width="0.7" />
<path d="M82 628.6 C82 627 84 626.4 86 626.8 C87.6 627.2 88.4 628.4 88.4 629.8 L88 635.6 C87.8 637.2 86.2 637.4 84.8 637 C83 636.6 81.8 635.6 81.8 634.2 Z" fill="#fff" stroke="#111" stroke-width="1.15" stroke-linejoin="round" stroke-linecap="round" />
<path d="M82 628.6 C83 630.4 86.6 631.2 88.4 629.8" fill="none" stroke="#111" stroke-width="0.8" stroke-linejoin="round" stroke-linecap="round" />
<path d="M102.8 606.8 L102.8 601.8 C102.8 599.6 110.8 599.6 110.8 601.8 L110.8 606.8 Z" fill="#fff" stroke="#111" stroke-width="1.26" stroke-linejoin="round" stroke-linecap="round" />
<path d="M98.7 631.5 L98.7 609 C98.7 605.4 114.6 605.4 114.6 609 L114.6 631.5 Z" fill="#fff" stroke="#111" stroke-width="1.38" stroke-linejoin="round" stroke-linecap="round" />
<path d="M98.7 610 C100 612.6 113.4 612.6 114.6 610" fill="none" stroke="#111" stroke-width="0.92" stroke-linejoin="round" stroke-linecap="round" />
<path d="M100.4 618 L100.4 628.6 L103.6 628.2 L103.6 617.6 Z" fill="#fff" stroke="#111" stroke-width="1.03" stroke-linejoin="round" stroke-linecap="round" />
<line x1="102" y1="618" x2="102" y2="628.4" stroke="#222" stroke-width="0.6" />
<path d="M98.7 631.5 C98.7 634 95 636.5 94.5 639.7 L118.5 639.7 C118 636.5 114.6 634 114.6 631.5 Z" fill="#fff" stroke="#111" stroke-width="1.26" stroke-linejoin="round" stroke-linecap="round" />
<path d="M98.7 631.5 C101 633.6 112.4 633.6 114.6 631.5" fill="none" stroke="#111" stroke-width="0.92" stroke-linejoin="round" stroke-linecap="round" />
<path d="M94.5 639.4 L94.5 650.4 L108 654 L118.5 648.6 L118.5 639.4 C114 642.8 99 642.8 94.5 639.4 Z" fill="#fff" stroke="#111" stroke-width="1.49" stroke-linejoin="round" stroke-linecap="round" />
<path d="M94.5 639.4 C96 636.5 117 636.5 118.5 639.4" fill="none" stroke="#111" stroke-width="1.15" stroke-linejoin="round" stroke-linecap="round" />
<path d="M95 641.6 C99 644.6 113 644.8 118.2 641.4" fill="none" stroke="#111" stroke-width="0.8" stroke-linejoin="round" stroke-linecap="round" />
<line x1="108" y1="643.4" x2="108" y2="654" stroke="#222" stroke-width="0.9" />
<path d="M98.8 653.6 L98.8 666.4 C98.8 671 114.8 671 114.8 666.4 L114.8 653.6 Z" fill="#fff" stroke="#111" stroke-width="1.38" stroke-linejoin="round" stroke-linecap="round" />
<path d="M98.8 656 C102 657.6 111.6 657.6 114.8 656" fill="none" stroke="#111" stroke-width="0.92" stroke-linejoin="round" stroke-linecap="round" />
<path d="M98.8 658.2 C102 659.8 111.6 659.8 114.8 658.2" fill="none" stroke="#111" stroke-width="0.92" stroke-linejoin="round" stroke-linecap="round" />
<path d="M98.8 660.4 C102 662 111.6 662 114.8 660.4" fill="none" stroke="#111" stroke-width="0.92" stroke-linejoin="round" stroke-linecap="round" />
<path d="M98.8 662.6 C102 664.2 111.6 664.2 114.8 662.6" fill="none" stroke="#111" stroke-width="0.92" stroke-linejoin="round" stroke-linecap="round" />
<path d="M98.8 664.8 C102 666.4 111.6 666.4 114.8 664.8" fill="none" stroke="#111" stroke-width="0.92" stroke-linejoin="round" stroke-linecap="round" />
<path d="M98.8 667 C102 668.6 111.6 668.6 114.8 667" fill="none" stroke="#111" stroke-width="0.92" stroke-linejoin="round" stroke-linecap="round" />
<path d="M78.5 691.2 L87.5 692.8 C88.6 693.2 88.6 697.2 87.5 697.4 L78.5 696.6 Z" fill="#fff" stroke="#111" stroke-width="1.15" stroke-linejoin="round" stroke-linecap="round" />
<line x1="79.8" y1="691.5" x2="79.8" y2="696.7" stroke="#222" stroke-width="0.6" />
<line x1="81.5" y1="691.5" x2="81.5" y2="696.7" stroke="#222" stroke-width="0.6" />
<line x1="83.2" y1="691.5" x2="83.2" y2="696.7" stroke="#222" stroke-width="0.6" />
<line x1="84.9" y1="691.5" x2="84.9" y2="696.7" stroke="#222" stroke-width="0.6" />
<line x1="86.6" y1="691.5" x2="86.6" y2="696.7" stroke="#222" stroke-width="0.6" />
<path d="M72 688.6 C72 687 77 687.4 78.6 688.4 L78.8 698.6 C77 700 72 699.6 72 698 Z" fill="#fff" stroke="#111" stroke-width="1.26" stroke-linejoin="round" stroke-linecap="round" />
<path d="M74.6 687.6 L74.6 699.4" fill="none" stroke="#111" stroke-width="0.92" stroke-linejoin="round" stroke-linecap="round" />
<path d="M134.2 712.9 L161.6 699.3 C163.62 700.83 170.22 704.78 173.7 708.5 C177.18 712.22 180.6 717.58 182.5 721.6 C184.4 725.62 184.67 730.77 185.1 732.6 L184.7 745.8 C183.6 749.08 181.77 759.67 178.1 765.5 C174.43 771.33 168.92 776.23 162.7 780.8 C156.48 785.37 149.2 789.78 140.8 792.9 C132.4 796.02 119.97 798.4 112.3 799.5 C104.63 800.6 101.37 800.42 94.8 799.5 C88.23 798.58 79.12 796.2 72.9 794 C66.68 791.8 61.33 788.5 57.5 786.3 C53.67 784.1 51.17 781.72 49.9 780.8 L49.2 767.7 C49.6 765.8 51.5 765 53.2 764.4 L87.1 739.6 Z" fill="#fff" stroke="#111" stroke-width="1.61" stroke-linejoin="round" stroke-linecap="round" />
<path d="M49.2 767.7 C50.17 768.33 52.15 770.05 55 771.5 C57.85 772.95 60.77 774.48 66.3 776.4 C71.83 778.32 80.53 781.6 88.2 783 C95.87 784.4 103.9 785.35 112.3 784.8 C120.7 784.25 130.2 782.55 138.6 779.7 C147 776.85 156.12 772.27 162.7 767.7 C169.28 763.13 174.4 757.75 178.1 752.3 C181.8 746.85 183.77 737.88 184.9 735" fill="none" stroke="#111" stroke-width="1.15" stroke-linejoin="round" stroke-linecap="round" />
<path d="M64.5 757.8 C67.72 759.27 75.83 764.58 83.8 766.6 C91.77 768.62 103.53 770.27 112.3 769.9 C121.07 769.53 129.45 767.33 136.4 764.4 C143.35 761.47 149.62 756.5 154 752.3 C158.38 748.1 161.22 743.95 162.7 739.2 C164.18 734.45 164.35 728.18 162.9 723.8 C161.45 719.42 156.4 715.45 154 712.9 C151.6 710.35 149.42 709.23 148.5 708.5" fill="none" stroke="#444" stroke-width="0.69" stroke-linejoin="round" stroke-linecap="round" />
<path d="M150.5 706.5 C151.92 707.75 156.32 710.58 159 714 C161.68 717.42 165.43 722.5 166.6 727 C167.77 731.5 167.43 736.5 166 741 C164.57 745.5 159.33 751.83 158 754" fill="none" stroke="#555" stroke-width="0.57" stroke-linejoin="round" stroke-linecap="round" />
<path d="M50.5 779.2 C51.75 780.07 54.25 782.33 58 784.4 C61.75 786.47 67.67 789.6 73 791.6 C78.33 793.6 87.17 795.6 90 796.4" fill="none" stroke="#555" stroke-width="0.57" stroke-linejoin="round" stroke-linecap="round" />
<path d="M76.2 716.2 L76.6 726 C78 736.5 90 743.8 105.2 743.8 C120.4 743.8 132.6 736.5 134 726 L134.2 716.2 Z" fill="#fff" stroke="#111" stroke-width="1.49" stroke-linejoin="round" stroke-linecap="round" />
<path d="M77.5 728.5 C80.5 737 91.5 741 105.2 741 C119 741 130 737 133 728.5" fill="none" stroke="#111" stroke-width="0.8" stroke-linejoin="round" stroke-linecap="round" />
<ellipse cx="105.2" cy="716.2" rx="29" ry="18.6" fill="#fff" stroke="#111" stroke-width="1.38" />
<ellipse cx="105.2" cy="715.2" rx="24.2" ry="14.3" fill="#fff" stroke="#111" stroke-width="1.26" />
<clipPath id="ccol"><ellipse cx="105.2" cy="715.2" rx="24.2" ry="14.3"/></clipPath>
<g clip-path="url(#ccol)">
<ellipse cx="105.2" cy="726" rx="24.2" ry="14.3" fill="none" stroke="#111" stroke-width="0.8" />
<path d="M86.5 722.4 L86.5 725.6 L90 727 M108 727.6 L108 729.4" fill="none" stroke="#111" stroke-width="0.8" stroke-linejoin="round" stroke-linecap="round" />
</g>
<path d="M107.8 711 L107.5 698 L124 697 L124.5 714 Z" fill="#fff" stroke="none" stroke-width="0.0" stroke-linejoin="round" stroke-linecap="round" />
<path d="M109 708.8 C109 702 109.6 694 110.6 690 L112.4 693.4 C111.6 698 111.2 703 111 708.2" fill="#fff" stroke="#111" stroke-width="1.03" stroke-linejoin="round" stroke-linecap="round" />
<path d="M115.6 709.6 L115.6 701.6 C116 697 117 693 117.9 691 L121 696.4 L121.6 710.4 L123.4 713 L123.6 719" fill="#fff" stroke="#111" stroke-width="1.03" stroke-linejoin="round" stroke-linecap="round" />
<path d="M115.6 701.8 L118.8 703.6 L119 697 M118.8 703.6 L121.4 705" fill="none" stroke="#111" stroke-width="0.92" stroke-linejoin="round" stroke-linecap="round" />
<line x1="106.6" y1="673.4" x2="106.6" y2="719.2" stroke="#2a2a2a" stroke-width="0.7" />
<path d="M82.2 820.6 L82.2 829.5 C83.5 838 93 843.8 106.6 843.8 C120.4 843.8 129.8 838 131 829.5 L131 820.6 Z" fill="#fff" stroke="#111" stroke-width="1.72" stroke-linejoin="round" stroke-linecap="round" />
<ellipse cx="106.6" cy="820.6" rx="24.4" ry="12.6" fill="#fff" stroke="#111" stroke-width="1.38" />
<ellipse cx="106.6" cy="820.8" rx="22.2" ry="11" fill="#fff" stroke="#111" stroke-width="0.8" />
<path d="M83 826.5 C86 834.5 95.5 838.6 106.6 838.6 C118 838.6 127.5 834.5 130.2 826.5" fill="none" stroke="#111" stroke-width="0.8" stroke-linejoin="round" stroke-linecap="round" />
<path d="M91.5 822.5 L99 815.6 C100 814.8 101 814.6 102.4 814.8 L119.6 817.2 C121.4 817.6 121.6 819 120.6 820 L113.4 827 C112.4 827.8 111 828 109.8 827.8 L92.6 825.2 C90.8 824.8 90.6 823.4 91.5 822.5 Z" fill="#fff" stroke="#111" stroke-width="1.26" stroke-linejoin="round" stroke-linecap="round" />
<path d="M93.6 823.4 L100 817.4 L118.2 820" fill="none" stroke="#111" stroke-width="0.8" stroke-linejoin="round" stroke-linecap="round" />
<ellipse cx="105.8" cy="825.6" rx="3.8" ry="1.6" fill="#fff" stroke="#111" stroke-width="1.15" transform="rotate(8 105.8 825.6)" />
<path d="M106.6 808.2 L106.6 815" fill="none" stroke="#333" stroke-width="0.69" stroke-linejoin="round" stroke-linecap="round" />
<path d="M124.6 829.6 L124.6 836.8" fill="none" stroke="#111" stroke-width="0.92" stroke-linejoin="round" stroke-linecap="round" />
<line x1="106.6" y1="806.5" x2="106.6" y2="823" stroke="#2a2a2a" stroke-width="0.7" />
<ellipse cx="106.8" cy="890.2" rx="72.6" ry="41.3" fill="none" stroke="#333" stroke-width="0.92" stroke-dasharray="2.8 1.9"/>
<path d="M34.2 890.2 L34.2 896.5 C36 921 70 938.3 106.8 938.3 C144 938.3 178 921 179.4 896.5 L179.4 890.2" fill="none" stroke="#333" stroke-width="0.92" stroke-linejoin="round" stroke-linecap="round" stroke-dasharray="2.8 1.9"/>
<ellipse cx="106.8" cy="893" rx="37.7" ry="23.2" fill="none" stroke="#333" stroke-width="0.92" stroke-dasharray="2.8 1.9"/>
<ellipse cx="106.8" cy="890.6" rx="24.4" ry="14" fill="none" stroke="#333" stroke-width="0.92" stroke-dasharray="2.8 1.9"/>
<ellipse cx="106.8" cy="889.3" rx="13.2" ry="7.8" fill="none" stroke="#333" stroke-width="0.92" stroke-dasharray="2.8 1.9"/>
<path d="M80 964.4 L80 972 C81.5 982.5 92 989.4 106.8 989.4 C121.8 989.4 132.2 982.5 133.6 972 L133.6 964.4 Z" fill="#fff" stroke="#111" stroke-width="1.95" stroke-linejoin="round" stroke-linecap="round" />
<ellipse cx="106.8" cy="964.4" rx="26.8" ry="16.2" fill="#fff" stroke="#111" stroke-width="1.61" />
<ellipse cx="106.8" cy="964.8" rx="24" ry="14.2" fill="#fff" stroke="#111" stroke-width="0.8" />
<path d="M81 969 C84 978.5 94 984 106.8 984 C119.6 984 129.6 978.5 132.6 969" fill="none" stroke="#111" stroke-width="0.8" stroke-linejoin="round" stroke-linecap="round" />
<path d="M93.2 960.8 L93.2 965.6 C93.2 970 99 972.6 106.8 972.6 C114.6 972.6 120.4 970 120.4 965.6 L120.4 960.8 Z" fill="#fff" stroke="#111" stroke-width="1.15" stroke-linejoin="round" stroke-linecap="round" />
<ellipse cx="106.8" cy="960.8" rx="13.6" ry="7.4" fill="#fff" stroke="#111" stroke-width="1.15" />
<ellipse cx="106.8" cy="961.2" rx="10.6" ry="5.6" fill="#fff" stroke="#111" stroke-width="0.8" />
<ellipse cx="106.8" cy="961.8" rx="7.6" ry="4.1" fill="#fff" stroke="#111" stroke-width="1.84" />
<ellipse cx="106.8" cy="962.6" rx="5.6" ry="2.9" fill="#fff" stroke="#111" stroke-width="0.8" />
<ellipse cx="93.2" cy="974.6" rx="2.3" ry="1.3" fill="#fff" stroke="#111" stroke-width="0.92" />
<ellipse cx="118.8" cy="974.6" rx="2.3" ry="1.3" fill="#fff" stroke="#111" stroke-width="0.92" />
<line x1="106.6" y1="947" x2="106.6" y2="962" stroke="#2a2a2a" stroke-width="0.7" />
<line x1="160.8" y1="166.42" x2="164" y2="168.34" stroke="#2a2a2a" stroke-width="0.7" />
<line x1="175.5" y1="175.24" x2="181" y2="178.54" stroke="#2a2a2a" stroke-width="0.7" />
<line x1="199" y1="189.34" x2="209" y2="195.34" stroke="#2a2a2a" stroke-width="0.7" />
<line x1="224" y1="204.34" x2="238" y2="212.74" stroke="#2a2a2a" stroke-width="0.7" />
<line x1="246" y1="217.54" x2="258" y2="224.74" stroke="#2a2a2a" stroke-width="0.7" />
<path d="M161.4 168.9 L162.8 165.6 L166.1 162.3 L170.2 162.5 L173.9 165.2 L174.9 170.5 L173.1 174.9 L169 177.3 L164 175.7 L161.6 173 Z" fill="#fff" stroke="#111" stroke-width="1.72" stroke-linejoin="round" stroke-linecap="round" />
<path d="M166.1 162.3 L165.4 168.4 L166 174 L169 177.3 M165.4 168.4 L161.6 170.6" fill="none" stroke="#111" stroke-width="1.03" stroke-linejoin="round" stroke-linecap="round" />
<ellipse cx="170.2" cy="170.1" rx="3.6" ry="6.2" fill="none" stroke="#111" stroke-width="0.8" transform="rotate(18 170.2 170.1)" />
<ellipse cx="170.3" cy="170.4" rx="1.7" ry="2.5" fill="#fff" stroke="#111" stroke-width="1.26" transform="rotate(20 170.3 170.4)" />
<line x1="170.5" y1="172.24" x2="176" y2="175.54" stroke="#2a2a2a" stroke-width="0.7" />
<path d="M178.4 184 C178.4 178 183 172.8 189 172.8 C193 172.8 199 174.6 202.2 178.2 C204.4 181 204.2 188 202.4 192.4 C200.6 196.4 196 198.4 192.6 196.6 C188 194.4 180.6 190.8 178.4 184 Z" fill="#fff" stroke="#111" stroke-width="1.84" stroke-linejoin="round" stroke-linecap="round" />
<ellipse cx="197" cy="188" rx="5.2" ry="9.6" fill="#fff" stroke="#111" stroke-width="1.38" transform="rotate(22 197 188)" />
<ellipse cx="197.2" cy="188.2" rx="2.1" ry="3" fill="#fff" stroke="#111" stroke-width="0.92" transform="rotate(22 197.2 188.2)" />
<path d="M181 177.4 L189.6 181.8" fill="none" stroke="#111" stroke-width="1.49" stroke-linejoin="round" stroke-linecap="round" />
<path d="M184.6 174.4 L192.4 178.6" fill="none" stroke="#111" stroke-width="1.49" stroke-linejoin="round" stroke-linecap="round" />
<path d="M189 173 L195.6 177.2" fill="none" stroke="#111" stroke-width="1.49" stroke-linejoin="round" stroke-linecap="round" />
<path d="M179.2 181.6 L188.4 186.4" fill="none" stroke="#111" stroke-width="1.49" stroke-linejoin="round" stroke-linecap="round" />
<path d="M179.2 186.2 L188.6 191.4" fill="none" stroke="#111" stroke-width="1.49" stroke-linejoin="round" stroke-linecap="round" />
<path d="M182.4 190.6 L190 195" fill="none" stroke="#111" stroke-width="1.49" stroke-linejoin="round" stroke-linecap="round" />
<path d="M194 173.6 L199.4 178" fill="none" stroke="#111" stroke-width="1.49" stroke-linejoin="round" stroke-linecap="round" />
<line x1="197.5" y1="188.44" x2="204" y2="192.34" stroke="#2a2a2a" stroke-width="0.7" />
<ellipse cx="216.96" cy="200.23" rx="10.46" ry="17.12" fill="#fff" stroke="#111" stroke-width="1.61" transform="rotate(26.67 216.96 200.23)" />
<path d="M209.28 215.53 L213.22 217.9 L228.58 187.3 L224.64 184.94 Z" fill="#fff" stroke="none" stroke-width="0.0" stroke-linejoin="round" stroke-linecap="round" />
<line x1="209.28" y1="215.53" x2="213.22" y2="217.9" stroke="#111" stroke-width="1.4" />
<line x1="224.64" y1="184.94" x2="228.58" y2="187.3" stroke="#111" stroke-width="1.4" />
<ellipse cx="220.9" cy="202.6" rx="10.46" ry="17.12" fill="#fff" stroke="#111" stroke-width="1.61" transform="rotate(26.67 220.9 202.6)" />
<ellipse cx="221.5" cy="202.9" rx="9" ry="14.72" fill="#fff" stroke="#111" stroke-width="0.69" transform="rotate(26.67 221.5 202.9)" />
<ellipse cx="222.2" cy="203.2" rx="6.9" ry="11.3" fill="#fff" stroke="#111" stroke-width="2.3" transform="rotate(26.67 222.2 203.2)" />
<ellipse cx="222.5" cy="203.5" rx="4.81" ry="7.87" fill="#fff" stroke="#111" stroke-width="0.8" transform="rotate(26.67 222.5 203.5)" />
<ellipse cx="222.7" cy="203.6" rx="3.14" ry="5.13" fill="#fff" stroke="#111" stroke-width="1.49" transform="rotate(26.67 222.7 203.6)" />
<line x1="223" y1="203.74" x2="237" y2="212.14" stroke="#2a2a2a" stroke-width="0.7" />
<ellipse cx="244.3" cy="216.2" rx="11.07" ry="16.31" fill="none" stroke="#111" stroke-width="2.18" transform="rotate(20.64 244.3 216.2)" />
<line x1="244" y1="216.34" x2="255.2" y2="223.06" stroke="#2a2a2a" stroke-width="0.7" />
<path d="M305.3 194.4 C308.5 194.75 311.33 196.58 313.5 199.2 C315.67 201.82 317.27 205.77 318.3 210.1 C319.33 214.43 320.05 219.48 319.7 225.2 C319.35 230.92 317.92 238.68 316.2 244.4 C314.48 250.12 312.58 254.48 309.4 259.5 C306.22 264.52 301.9 270.17 297.1 274.5 C292.3 278.83 285.63 282.87 280.6 285.5 C275.57 288.13 270.32 289.85 266.9 290.3 C263.48 290.75 262.03 290.15 260.1 288.2 C258.17 286.25 256.5 282.93 255.3 278.6 C254.1 274.27 253.2 267.9 252.9 262.2 C252.6 256.5 252.88 250.12 253.5 244.4 C254.12 238.68 255.05 232.02 256.6 227.9 C258.15 223.78 259.03 223.35 262.8 219.7 C266.57 216.05 273.95 209.77 279.2 206 C284.45 202.23 289.95 199.03 294.3 197.1 C298.65 195.17 302.1 194.05 305.3 194.4 Z" fill="#fff" stroke="#111" stroke-width="1.61" stroke-linejoin="round" stroke-linecap="round" />
<path d="M303.9 199.2 C306.65 199.32 308.97 201.02 310.8 203.3 C312.63 205.58 314.12 209.02 314.9 212.9 C315.68 216.78 315.85 221.58 315.5 226.6 C315.15 231.62 314.28 237.98 312.8 243 C311.32 248.02 309.45 252.13 306.6 256.7 C303.75 261.27 300.03 266.28 295.7 270.4 C291.37 274.52 285.17 278.88 280.6 281.4 C276.03 283.92 271.27 285.28 268.3 285.5 C265.33 285.72 264.28 284.53 262.8 282.7 C261.32 280.87 260.27 278.15 259.4 274.5 C258.53 270.85 257.83 265.82 257.6 260.8 C257.37 255.78 257.47 249.42 258 244.4 C258.53 239.38 259.32 234.35 260.8 230.7 C262.28 227.05 263.6 225.7 266.9 222.5 C270.2 219.3 276.03 214.82 280.6 211.5 C285.17 208.18 290.42 204.65 294.3 202.6 C298.18 200.55 301.15 199.08 303.9 199.2 Z" fill="#fff" stroke="#111" stroke-width="1.03" stroke-linejoin="round" stroke-linecap="round" />
<path d="M302.5 203 C304.83 202.92 306.58 204.67 308 206.5 C309.42 208.33 310.42 210.58 311 214 C311.58 217.42 311.83 222.33 311.5 227 C311.17 231.67 310.33 237.42 309 242 C307.67 246.58 306.08 250.33 303.5 254.5 C300.92 258.67 297.42 263.25 293.5 267 C289.58 270.75 283.92 274.67 280 277 C276.08 279.33 272.33 280.73 270 281 C267.67 281.27 267.13 280.18 266 278.6 C264.87 277.02 263.9 274.6 263.2 271.5 C262.5 268.4 261.97 264.42 261.8 260 C261.63 255.58 261.73 249.5 262.2 245 C262.67 240.5 263.3 236.25 264.6 233 C265.9 229.75 267.1 228.42 270 225.5 C272.9 222.58 278 218.58 282 215.5 C286 212.42 290.58 209.08 294 207 C297.42 204.92 300.17 203.08 302.5 203 Z" fill="#fff" stroke="#111" stroke-width="0.8" stroke-linejoin="round" stroke-linecap="round" />
<path d="M287.2 208 L287.2 217 M290.8 206 L290.8 216" fill="none" stroke="#111" stroke-width="0.92" stroke-linejoin="round" stroke-linecap="round" />
<path d="M303.6 214.6 L309 204.4 M306 217 L311 207" fill="none" stroke="#111" stroke-width="0.92" stroke-linejoin="round" stroke-linecap="round" />
<path d="M309.4 233.6 L316 229.4 M309.6 237.4 L315.6 233.6" fill="none" stroke="#111" stroke-width="0.92" stroke-linejoin="round" stroke-linecap="round" />
<path d="M304 256.6 L310.6 260.6 M302 259.6 L308 263.6" fill="none" stroke="#111" stroke-width="0.92" stroke-linejoin="round" stroke-linecap="round" />
<path d="M287.2 272 L287.2 278.6 M290.8 270 L290.8 276.4" fill="none" stroke="#111" stroke-width="0.92" stroke-linejoin="round" stroke-linecap="round" />
<path d="M271.8 273 L267 282.6 M274.4 274.6 L270 283.6" fill="none" stroke="#111" stroke-width="0.92" stroke-linejoin="round" stroke-linecap="round" />
<path d="M261.6 262.2 L269.6 258 M261.4 258.4 L269 254.6" fill="none" stroke="#111" stroke-width="0.92" stroke-linejoin="round" stroke-linecap="round" />
<path d="M265.6 229.4 L274.4 233.4 M267.4 227 L276 231" fill="none" stroke="#111" stroke-width="0.92" stroke-linejoin="round" stroke-linecap="round" />
<ellipse cx="310.8" cy="202.8" rx="1.4" ry="2" fill="#fff" stroke="#111" stroke-width="1.03" transform="rotate(25 310.8 202.8)" />
<ellipse cx="266.2" cy="230.2" rx="1.4" ry="2" fill="#fff" stroke="#111" stroke-width="1.03" transform="rotate(25 266.2 230.2)" />
<ellipse cx="266.2" cy="284.6" rx="1.4" ry="2" fill="#fff" stroke="#111" stroke-width="1.03" transform="rotate(25 266.2 284.6)" />
<ellipse cx="288.8" cy="243.4" rx="18.34" ry="30.49" fill="#fff" stroke="#111" stroke-width="1.38" transform="rotate(18.48 288.8 243.4)" />
<ellipse cx="289.1" cy="243.6" rx="16.76" ry="28.11" fill="#fff" stroke="#111" stroke-width="0.8" transform="rotate(18.3 289.1 243.6)" />
<ellipse cx="289.4" cy="243.8" rx="15.3" ry="25.43" fill="#fff" stroke="#111" stroke-width="2.18" transform="rotate(18.48 289.4 243.8)" />
<ellipse cx="289.4" cy="243.8" rx="13.63" ry="22.94" fill="#fff" stroke="#111" stroke-width="0.8" transform="rotate(18.21 289.4 243.8)" />
<ellipse cx="289.2" cy="243.6" rx="11.98" ry="20.05" fill="#fff" stroke="#111" stroke-width="1.38" transform="rotate(18.34 289.2 243.6)" />
<ellipse cx="289" cy="243.4" rx="9.76" ry="16.53" fill="#fff" stroke="#111" stroke-width="0.8" transform="rotate(18.08 289 243.4)" />
<ellipse cx="288.8" cy="243.4" rx="8.1" ry="13.84" fill="#fff" stroke="#111" stroke-width="1.15" transform="rotate(17.91 288.8 243.4)" />
<ellipse cx="288.6" cy="243.4" rx="5.89" ry="9.92" fill="#fff" stroke="#111" stroke-width="2.18" transform="rotate(18.23 288.6 243.4)" />
<ellipse cx="288.2" cy="243.2" rx="3.67" ry="6.6" fill="#fff" stroke="#111" stroke-width="0.8" transform="rotate(16.95 288.2 243.2)" />
<path d="M283.6 247.6 L289.6 236.6 M285.6 249 L291.2 238.6" fill="none" stroke="#111" stroke-width="0.69" stroke-linejoin="round" stroke-linecap="round" />
<line x1="288" y1="243.6" x2="318.3" y2="261.3" stroke="#111" stroke-width="2.4" />
<line x1="288.6" y1="243.95" x2="318.8" y2="261.6" stroke="#fff" stroke-width="1.2" />
<line x1="318.6" y1="262.4" x2="300" y2="251.7" stroke="#2a2a2a" stroke-width="0.7" />
<g transform="translate(347.6 279.5) rotate(30.4)">
<ellipse cx="-33" cy="0.9" rx="1.7" ry="3.7" fill="#fff" stroke="#111" stroke-width="1.38" transform="rotate(-7 -33 0.9)" />
<path d="M-33 -2.8 L-19 -2.8 L-19 4.6 L-33 4.6 Z" fill="#fff" stroke="none" stroke-width="0.0" stroke-linejoin="round" stroke-linecap="round" />
<line x1="-33" y1="-2.8" x2="-19" y2="-2.8" stroke="#111" stroke-width="1.2" />
<line x1="-33" y1="4.6" x2="-19" y2="4.6" stroke="#111" stroke-width="1.2" />
<ellipse cx="-19" cy="0.9" rx="1.7" ry="3.7" fill="#fff" stroke="#111" stroke-width="1.38" transform="rotate(-7 -19 0.9)" />
<line x1="-28" y1="-2.7" x2="-28" y2="4.3" stroke="#222" stroke-width="0.6" />
</g>
<path d="M356.9 247.3 C353.73 247.62 348.65 248.63 345 250.5 C341.35 252.37 337.92 255.25 335 258.5 C332.08 261.75 329.43 266.25 327.5 270 C325.57 273.75 324.27 277.58 323.4 281 C322.53 284.42 322.2 287.33 322.3 290.5 C322.4 293.67 322.88 297.08 324 300 C325.12 302.92 326.92 305.83 329 308 C331.08 310.17 334.12 312.02 336.5 313 C338.88 313.98 341.22 314.23 343.3 313.9 C345.38 313.57 347.38 312.48 349 311 C350.62 309.52 350.83 308.5 353 305 C355.17 301.5 358.62 295.5 362 290 C365.38 284.5 371.23 276.43 373.3 272 C375.37 267.57 374.95 266.47 374.4 263.4 C373.85 260.33 371.73 256.07 370 253.6 C368.27 251.13 366.18 249.65 364 248.6 C361.82 247.55 360.07 246.98 356.9 247.3 Z" fill="#fff" stroke="#111" stroke-width="1.95" stroke-linejoin="round" stroke-linecap="round" />
<clipPath id="cfan"><path d="M356.9 247.3 C353.73 247.62 348.65 248.63 345 250.5 C341.35 252.37 337.92 255.25 335 258.5 C332.08 261.75 329.43 266.25 327.5 270 C325.57 273.75 324.27 277.58 323.4 281 C322.53 284.42 322.2 287.33 322.3 290.5 C322.4 293.67 322.88 297.08 324 300 C325.12 302.92 326.92 305.83 329 308 C331.08 310.17 334.12 312.02 336.5 313 C338.88 313.98 341.22 314.23 343.3 313.9 C345.38 313.57 347.38 312.48 349 311 C350.62 309.52 350.83 308.5 353 305 C355.17 301.5 358.62 295.5 362 290 C365.38 284.5 371.23 276.43 373.3 272 C375.37 267.57 374.95 266.47 374.4 263.4 C373.85 260.33 371.73 256.07 370 253.6 C368.27 251.13 366.18 249.65 364 248.6 C361.82 247.55 360.07 246.98 356.9 247.3 Z"/></clipPath>
<g clip-path="url(#cfan)">
<path d="M337.6 313.7 L338.37 306.08 L345.89 303.79" fill="none" stroke="#111" stroke-width="1.49" stroke-linejoin="round" stroke-linecap="round" />
<path d="M332.55 311.02 L335.4 303.01 L344.32 302" fill="none" stroke="#111" stroke-width="1.49" stroke-linejoin="round" stroke-linecap="round" />
<path d="M328.19 307.01 L333.08 299.02 L343.15 299.41" fill="none" stroke="#111" stroke-width="1.49" stroke-linejoin="round" stroke-linecap="round" />
<path d="M324.7 301.83 L331.51 294.29 L342.44 296.16" fill="none" stroke="#111" stroke-width="1.49" stroke-linejoin="round" stroke-linecap="round" />
<path d="M322.23 295.71 L330.77 289.02 L342.21 292.37" fill="none" stroke="#111" stroke-width="1.49" stroke-linejoin="round" stroke-linecap="round" />
<path d="M320.91 288.93 L330.89 283.44 L342.47 288.22" fill="none" stroke="#111" stroke-width="1.49" stroke-linejoin="round" stroke-linecap="round" />
<path d="M320.77 281.77 L331.86 277.8 L343.21 283.88" fill="none" stroke="#111" stroke-width="1.49" stroke-linejoin="round" stroke-linecap="round" />
<path d="M321.84 274.55 L333.64 272.34 L344.41 279.55" fill="none" stroke="#111" stroke-width="1.49" stroke-linejoin="round" stroke-linecap="round" />
<path d="M324.05 267.59 L336.16 267.31 L346 275.41" fill="none" stroke="#111" stroke-width="1.49" stroke-linejoin="round" stroke-linecap="round" />
<path d="M327.33 261.19 L339.29 262.92 L347.92 271.65" fill="none" stroke="#111" stroke-width="1.49" stroke-linejoin="round" stroke-linecap="round" />
<path d="M331.51 255.63 L342.92 259.36 L350.08 268.43" fill="none" stroke="#111" stroke-width="1.49" stroke-linejoin="round" stroke-linecap="round" />
<path d="M336.42 251.15 L346.87 256.79 L352.39 265.88" fill="none" stroke="#111" stroke-width="1.49" stroke-linejoin="round" stroke-linecap="round" />
<path d="M341.85 247.95 L350.97 255.32 L354.76 264.13" fill="none" stroke="#111" stroke-width="1.49" stroke-linejoin="round" stroke-linecap="round" />
<path d="M347.56 246.17 L355.05 255.02 L357.06 263.25" fill="none" stroke="#111" stroke-width="1.49" stroke-linejoin="round" stroke-linecap="round" />
<path d="M353.29 245.88 L358.92 255.9 L359.21 263.28" fill="none" stroke="#111" stroke-width="1.49" stroke-linejoin="round" stroke-linecap="round" />
<path d="M358.8 247.1 L362.43 257.92 L361.11 264.21" fill="none" stroke="#111" stroke-width="1.49" stroke-linejoin="round" stroke-linecap="round" />
<path d="M363.85 249.78 L365.4 260.99 L362.68 266" fill="none" stroke="#111" stroke-width="1.49" stroke-linejoin="round" stroke-linecap="round" />
<path d="M368.21 253.79 L367.72 264.98 L363.85 268.59" fill="none" stroke="#111" stroke-width="1.49" stroke-linejoin="round" stroke-linecap="round" />
<path d="M371.7 258.97 L369.29 269.71 L364.56 271.84" fill="none" stroke="#111" stroke-width="1.49" stroke-linejoin="round" stroke-linecap="round" />
<path d="M374.17 265.09 L370.03 274.98 L364.79 275.63" fill="none" stroke="#111" stroke-width="1.49" stroke-linejoin="round" stroke-linecap="round" />
<path d="M375.49 271.87 L369.91 280.56 L364.53 279.78" fill="none" stroke="#111" stroke-width="1.49" stroke-linejoin="round" stroke-linecap="round" />
<path d="M375.63 279.03 L368.94 286.2 L363.79 284.12" fill="none" stroke="#111" stroke-width="1.49" stroke-linejoin="round" stroke-linecap="round" />
<path d="M374.56 286.25 L367.16 291.66 L362.59 288.45" fill="none" stroke="#111" stroke-width="1.49" stroke-linejoin="round" stroke-linecap="round" />
<path d="M372.35 293.21 L364.64 296.69 L361 292.59" fill="none" stroke="#111" stroke-width="1.49" stroke-linejoin="round" stroke-linecap="round" />
<path d="M369.07 299.61 L361.51 301.08 L359.08 296.35" fill="none" stroke="#111" stroke-width="1.49" stroke-linejoin="round" stroke-linecap="round" />
<path d="M364.89 305.17 L357.88 304.64 L356.92 299.57" fill="none" stroke="#111" stroke-width="1.49" stroke-linejoin="round" stroke-linecap="round" />
<path d="M359.98 309.65 L353.93 307.21 L354.61 302.12" fill="none" stroke="#111" stroke-width="1.49" stroke-linejoin="round" stroke-linecap="round" />
<path d="M354.55 312.85 L349.83 308.68 L352.24 303.87" fill="none" stroke="#111" stroke-width="1.49" stroke-linejoin="round" stroke-linecap="round" />
<path d="M348.84 314.63 L345.75 308.98 L349.94 304.75" fill="none" stroke="#111" stroke-width="1.49" stroke-linejoin="round" stroke-linecap="round" />
<path d="M343.11 314.92 L341.88 308.1 L347.79 304.72" fill="none" stroke="#111" stroke-width="1.49" stroke-linejoin="round" stroke-linecap="round" />
</g>
<ellipse cx="353.5" cy="284" rx="10" ry="21.5" fill="#fff" stroke="#111" stroke-width="2.76" transform="rotate(16 353.5 284)" />
<g transform="translate(347.6 279.5) rotate(30.4)">
<ellipse cx="6" cy="0.6" rx="6.6" ry="16.2" fill="#fff" stroke="#111" stroke-width="1.15" transform="rotate(-7 6 0.6)" />
<path d="M6 -15.6 L18 -15.6 L18 16.8 L6 16.8 Z" fill="#fff" stroke="none" stroke-width="0.0" stroke-linejoin="round" stroke-linecap="round" />
<line x1="6" y1="-15.6" x2="18" y2="-15.6" stroke="#111" stroke-width="1.0" />
<line x1="6" y1="16.8" x2="18" y2="16.8" stroke="#111" stroke-width="1.0" />
<ellipse cx="18" cy="0.6" rx="6.6" ry="16.2" fill="#fff" stroke="#111" stroke-width="1.15" transform="rotate(-7 18 0.6)" />
<path d="M0 -15.4 L13 -10.4 M0 -10.4 L13 -15.4" fill="none" stroke="#111" stroke-width="0.8" stroke-linejoin="round" stroke-linecap="round" />
<path d="M0 -12 L13 -7 M0 -7 L13 -12" fill="none" stroke="#111" stroke-width="0.8" stroke-linejoin="round" stroke-linecap="round" />
<path d="M0 -8.6 L13 -3.6 M0 -3.6 L13 -8.6" fill="none" stroke="#111" stroke-width="0.8" stroke-linejoin="round" stroke-linecap="round" />
<path d="M0 -5.2 L13 -0.2 M0 -0.2 L13 -5.2" fill="none" stroke="#111" stroke-width="0.8" stroke-linejoin="round" stroke-linecap="round" />
<path d="M0 -1.8 L13 3.2 M0 3.2 L13 -1.8" fill="none" stroke="#111" stroke-width="0.8" stroke-linejoin="round" stroke-linecap="round" />
<path d="M0 1.6 L13 6.6 M0 6.6 L13 1.6" fill="none" stroke="#111" stroke-width="0.8" stroke-linejoin="round" stroke-linecap="round" />
<path d="M0 5 L13 10 M0 10 L13 5" fill="none" stroke="#111" stroke-width="0.8" stroke-linejoin="round" stroke-linecap="round" />
<path d="M0 8.4 L13 13.4 M0 13.4 L13 8.4" fill="none" stroke="#111" stroke-width="0.8" stroke-linejoin="round" stroke-linecap="round" />
<path d="M0 11.8 L13 16.8 M0 16.8 L13 11.8" fill="none" stroke="#111" stroke-width="0.8" stroke-linejoin="round" stroke-linecap="round" />
<path d="M0 15.2 L13 20.2 M0 20.2 L13 15.2" fill="none" stroke="#111" stroke-width="0.8" stroke-linejoin="round" stroke-linecap="round" />
<ellipse cx="19" cy="0.5" rx="8" ry="18.8" fill="#fff" stroke="#111" stroke-width="1.49" transform="rotate(-7 19 0.5)" />
<path d="M19 -18.3 L64 -17.4 L64 21.8 L19 19.3 Z" fill="#fff" stroke="none" stroke-width="0.0" stroke-linejoin="round" stroke-linecap="round" />
<line x1="19" y1="-18.3" x2="64" y2="-17.4" stroke="#111" stroke-width="1.3" />
<line x1="19" y1="19.3" x2="64" y2="21.8" stroke="#111" stroke-width="1.3" />
<ellipse cx="64" cy="2.2" rx="8.34" ry="19.6" fill="#fff" stroke="#111" stroke-width="1.49" transform="rotate(-7 64 2.2)" />
<line x1="15.07" y1="-15.6" x2="60.07" y2="-14.57" stroke="#222" stroke-width="0.6" />
<line x1="13.32" y1="-12.01" x2="58.32" y2="-10.83" stroke="#222" stroke-width="0.6" />
<line x1="12.31" y1="-8.42" x2="57.31" y2="-7.09" stroke="#222" stroke-width="0.6" />
<line x1="11.71" y1="-4.83" x2="56.71" y2="-3.35" stroke="#222" stroke-width="0.6" />
<line x1="11.43" y1="-1.25" x2="56.43" y2="0.38" stroke="#222" stroke-width="0.6" />
<line x1="11.44" y1="2.34" x2="56.44" y2="4.12" stroke="#222" stroke-width="0.6" />
<line x1="11.72" y1="5.93" x2="56.72" y2="7.86" stroke="#222" stroke-width="0.6" />
<line x1="12.33" y1="9.52" x2="57.33" y2="11.59" stroke="#222" stroke-width="0.6" />
<line x1="13.36" y1="13.11" x2="58.36" y2="15.33" stroke="#222" stroke-width="0.6" />
<line x1="15.13" y1="16.7" x2="60.13" y2="19.07" stroke="#222" stroke-width="0.6" />
<clipPath id="cw"><ellipse cx="64" cy="2.2" rx="7.6" ry="18.6" transform="rotate(-7 64 2.2)"/><path d="M64 -16.4 L81 -11.8 L81 17.2 L64 20.8 Z"/><ellipse cx="81" cy="2.7" rx="6" ry="14.5" transform="rotate(-7 81 2.7)"/></clipPath>
<ellipse cx="64" cy="2.2" rx="7.6" ry="18.6" fill="#fff" stroke="#111" stroke-width="1.26" transform="rotate(-7 64 2.2)" />
<path d="M64 -16.4 L81 -11.8 L81 17.2 L64 20.8 Z" fill="#fff" stroke="none" stroke-width="0.0" stroke-linejoin="round" stroke-linecap="round" />
<line x1="64" y1="-16.4" x2="81" y2="-11.8" stroke="#111" stroke-width="1.1" />
<line x1="64" y1="20.8" x2="81" y2="17.2" stroke="#111" stroke-width="1.1" />
<ellipse cx="81" cy="2.7" rx="5.92" ry="14.5" fill="#fff" stroke="#111" stroke-width="1.26" transform="rotate(-7 81 2.7)" />
<g clip-path="url(#cw)">
<path d="M55 -26 L90 -11 M55 -11 L90 -26" fill="none" stroke="#111" stroke-width="0.8" stroke-linejoin="round" stroke-linecap="round" />
<path d="M58 -23.4 L90 -17" fill="none" stroke="#111" stroke-width="0.57" stroke-linejoin="round" stroke-linecap="round" />
<path d="M55 -20.8 L90 -5.8 M55 -5.8 L90 -20.8" fill="none" stroke="#111" stroke-width="0.8" stroke-linejoin="round" stroke-linecap="round" />
<path d="M58 -18.2 L90 -11.8" fill="none" stroke="#111" stroke-width="0.57" stroke-linejoin="round" stroke-linecap="round" />
<path d="M55 -15.6 L90 -0.6 M55 -0.6 L90 -15.6" fill="none" stroke="#111" stroke-width="0.8" stroke-linejoin="round" stroke-linecap="round" />
<path d="M58 -13 L90 -6.6" fill="none" stroke="#111" stroke-width="0.57" stroke-linejoin="round" stroke-linecap="round" />
<path d="M55 -10.4 L90 4.6 M55 4.6 L90 -10.4" fill="none" stroke="#111" stroke-width="0.8" stroke-linejoin="round" stroke-linecap="round" />
<path d="M58 -7.8 L90 -1.4" fill="none" stroke="#111" stroke-width="0.57" stroke-linejoin="round" stroke-linecap="round" />
<path d="M55 -5.2 L90 9.8 M55 9.8 L90 -5.2" fill="none" stroke="#111" stroke-width="0.8" stroke-linejoin="round" stroke-linecap="round" />
<path d="M58 -2.6 L90 3.8" fill="none" stroke="#111" stroke-width="0.57" stroke-linejoin="round" stroke-linecap="round" />
<path d="M55 0 L90 15 M55 15 L90 0" fill="none" stroke="#111" stroke-width="0.8" stroke-linejoin="round" stroke-linecap="round" />
<path d="M58 2.6 L90 9" fill="none" stroke="#111" stroke-width="0.57" stroke-linejoin="round" stroke-linecap="round" />
<path d="M55 5.2 L90 20.2 M55 20.2 L90 5.2" fill="none" stroke="#111" stroke-width="0.8" stroke-linejoin="round" stroke-linecap="round" />
<path d="M58 7.8 L90 14.2" fill="none" stroke="#111" stroke-width="0.57" stroke-linejoin="round" stroke-linecap="round" />
<path d="M55 10.4 L90 25.4 M55 25.4 L90 10.4" fill="none" stroke="#111" stroke-width="0.8" stroke-linejoin="round" stroke-linecap="round" />
<path d="M58 13 L90 19.4" fill="none" stroke="#111" stroke-width="0.57" stroke-linejoin="round" stroke-linecap="round" />
<path d="M55 15.6 L90 30.6 M55 30.6 L90 15.6" fill="none" stroke="#111" stroke-width="0.8" stroke-linejoin="round" stroke-linecap="round" />
<path d="M58 18.2 L90 24.6" fill="none" stroke="#111" stroke-width="0.57" stroke-linejoin="round" stroke-linecap="round" />
<path d="M55 20.8 L90 35.8 M55 35.8 L90 20.8" fill="none" stroke="#111" stroke-width="0.8" stroke-linejoin="round" stroke-linecap="round" />
<path d="M58 23.4 L90 29.8" fill="none" stroke="#111" stroke-width="0.57" stroke-linejoin="round" stroke-linecap="round" />
</g>
<ellipse cx="64" cy="2.2" rx="7.6" ry="18.6" fill="none" stroke="#111" stroke-width="1.15" transform="rotate(-7 64 2.2)" />
<ellipse cx="80.5" cy="2.7" rx="5.9" ry="14.2" fill="#fff" stroke="#111" stroke-width="1.72" transform="rotate(-7 80.5 2.7)" />
<path d="M80.5 -11.5 L83 -11.5 L83 16.9 L80.5 16.9 Z" fill="#fff" stroke="none" stroke-width="0.0" stroke-linejoin="round" stroke-linecap="round" />
<line x1="80.5" y1="-11.5" x2="83" y2="-11.5" stroke="#111" stroke-width="1.5" />
<line x1="80.5" y1="16.9" x2="83" y2="16.9" stroke="#111" stroke-width="1.5" />
<ellipse cx="83" cy="2.7" rx="5.9" ry="14.2" fill="#fff" stroke="#111" stroke-width="1.72" transform="rotate(-7 83 2.7)" />
<ellipse cx="83" cy="2.7" rx="5.4" ry="13" fill="#fff" stroke="#111" stroke-width="1.26" transform="rotate(-7 83 2.7)" />
<path d="M83 -10.3 L99 -10.3 L99 15.7 L83 15.7 Z" fill="#fff" stroke="none" stroke-width="0.0" stroke-linejoin="round" stroke-linecap="round" />
<line x1="83" y1="-10.3" x2="99" y2="-10.3" stroke="#111" stroke-width="1.1" />
<line x1="83" y1="15.7" x2="99" y2="15.7" stroke="#111" stroke-width="1.1" />
<ellipse cx="99" cy="2.7" rx="5.4" ry="13" fill="#fff" stroke="#111" stroke-width="1.26" transform="rotate(-7 99 2.7)" />
<line x1="86.18" y1="-7.8" x2="99.64" y2="-7.8" stroke="#222" stroke-width="0.6" />
<line x1="87.41" y1="-4.8" x2="99.88" y2="-4.8" stroke="#222" stroke-width="0.6" />
<line x1="88.07" y1="-1.8" x2="100.01" y2="-1.8" stroke="#222" stroke-width="0.6" />
<line x1="88.36" y1="1.2" x2="100.07" y2="1.2" stroke="#222" stroke-width="0.6" />
<line x1="88.36" y1="4.2" x2="100.07" y2="4.2" stroke="#222" stroke-width="0.6" />
<line x1="88.07" y1="7.2" x2="100.01" y2="7.2" stroke="#222" stroke-width="0.6" />
<line x1="87.41" y1="10.2" x2="99.88" y2="10.2" stroke="#222" stroke-width="0.6" />
<line x1="86.18" y1="13.2" x2="99.64" y2="13.2" stroke="#222" stroke-width="0.6" />
<ellipse cx="99" cy="2.7" rx="5.4" ry="13" fill="#fff" stroke="#111" stroke-width="1.26" transform="rotate(-7 99 2.7)" />
<ellipse cx="99.4" cy="2.6" rx="4.3" ry="10.4" fill="#fff" stroke="#111" stroke-width="0.8" transform="rotate(-7 99.4 2.6)" />
<ellipse cx="99.8" cy="2.4" rx="2.9" ry="7" fill="#fff" stroke="#111" stroke-width="1.15" transform="rotate(-7 99.8 2.4)" />
<ellipse cx="100" cy="2.2" rx="2.2" ry="5.2" fill="#fff" stroke="#111" stroke-width="1.03" transform="rotate(-7 100 2.2)" />
<path d="M100 -3 L104 -3 L104 7.4 L100 7.4 Z" fill="#fff" stroke="none" stroke-width="0.0" stroke-linejoin="round" stroke-linecap="round" />
<line x1="100" y1="-3" x2="104" y2="-3" stroke="#111" stroke-width="0.9" />
<line x1="100" y1="7.4" x2="104" y2="7.4" stroke="#111" stroke-width="0.9" />
<ellipse cx="104" cy="2.2" rx="2.2" ry="5.2" fill="#fff" stroke="#111" stroke-width="1.03" transform="rotate(-7 104 2.2)" />
<ellipse cx="103" cy="1.9" rx="1.6" ry="3.6" fill="#fff" stroke="#111" stroke-width="1.26" transform="rotate(-7 103 1.9)" />
<path d="M103 -1.7 L113 -2.4 L113 4.8 L103 5.5 Z" fill="#fff" stroke="none" stroke-width="0.0" stroke-linejoin="round" stroke-linecap="round" />
<line x1="103" y1="-1.7" x2="113" y2="-2.4" stroke="#111" stroke-width="1.1" />
<line x1="103" y1="5.5" x2="113" y2="4.8" stroke="#111" stroke-width="1.1" />
<ellipse cx="113" cy="1.2" rx="1.6" ry="3.6" fill="#fff" stroke="#111" stroke-width="1.26" transform="rotate(-7 113 1.2)" />
</g>
<line x1="443.5" y1="338.4" x2="448" y2="341.21" stroke="#2a2a2a" stroke-width="0.7" />
<line x1="461" y1="349.34" x2="472" y2="356.21" stroke="#2a2a2a" stroke-width="0.7" />
<line x1="485" y1="364.34" x2="495" y2="370.59" stroke="#2a2a2a" stroke-width="0.7" />
<line x1="512" y1="381.21" x2="524" y2="388.71" stroke="#2a2a2a" stroke-width="0.7" />
<ellipse cx="457.31" cy="347.47" rx="8.81" ry="14.8" fill="#fff" stroke="#111" stroke-width="1.61" transform="rotate(18.69 457.31 347.47)" />
<path d="M452.57 361.49 L454.46 362.62 L463.94 334.58 L462.06 333.45 Z" fill="#fff" stroke="none" stroke-width="0.0" stroke-linejoin="round" stroke-linecap="round" />
<line x1="452.57" y1="361.49" x2="454.46" y2="362.62" stroke="#111" stroke-width="1.4" />
<line x1="462.06" y1="333.45" x2="463.94" y2="334.58" stroke="#111" stroke-width="1.4" />
<ellipse cx="459.2" cy="348.6" rx="8.81" ry="14.8" fill="#fff" stroke="#111" stroke-width="1.61" transform="rotate(18.69 459.2 348.6)" />
<ellipse cx="459.5" cy="348.8" rx="7.05" ry="11.84" fill="#fff" stroke="#111" stroke-width="0.69" transform="rotate(18.69 459.5 348.8)" />
<ellipse cx="460.2" cy="349.2" rx="5.11" ry="8.58" fill="#fff" stroke="#111" stroke-width="1.15" transform="rotate(18.69 460.2 349.2)" />
<ellipse cx="460.6" cy="349.4" rx="2.91" ry="4.88" fill="#fff" stroke="#111" stroke-width="2.07" transform="rotate(18.69 460.6 349.4)" />
<path d="M453.6 357 L455.4 358 M463.6 338.6 L465.4 339.6 M466.4 345 L467.6 345.6" fill="none" stroke="#111" stroke-width="0.92" stroke-linejoin="round" stroke-linecap="round" />
<ellipse cx="479.49" cy="361.13" rx="7.91" ry="12.85" fill="#fff" stroke="#111" stroke-width="1.61" transform="rotate(19.47 479.49 361.13)" />
<path d="M475.2 373.24 L479.32 375.72 L487.88 351.48 L483.77 349.01 Z" fill="#fff" stroke="none" stroke-width="0.0" stroke-linejoin="round" stroke-linecap="round" />
<line x1="475.2" y1="373.24" x2="479.32" y2="375.72" stroke="#111" stroke-width="1.4" />
<line x1="483.77" y1="349.01" x2="487.88" y2="351.48" stroke="#111" stroke-width="1.4" />
<ellipse cx="483.6" cy="363.6" rx="7.91" ry="12.85" fill="#fff" stroke="#111" stroke-width="1.61" transform="rotate(19.47 483.6 363.6)" />
<ellipse cx="483.9" cy="363.8" rx="6.33" ry="10.28" fill="#fff" stroke="#111" stroke-width="0.69" transform="rotate(19.47 483.9 363.8)" />
<ellipse cx="484.3" cy="364" rx="4.75" ry="7.71" fill="#fff" stroke="#111" stroke-width="1.95" transform="rotate(19.47 484.3 364)" />
<ellipse cx="484.6" cy="364.2" rx="2.85" ry="4.63" fill="#fff" stroke="#111" stroke-width="1.38" transform="rotate(19.47 484.6 364.2)" />
<ellipse cx="503.66" cy="374.59" rx="8.62" ry="14.11" fill="#fff" stroke="#111" stroke-width="1.72" transform="rotate(19.62 503.66 374.59)" />
<path d="M498.92 387.88 L505.26 391.69 L514.74 365.11 L508.39 361.3 Z" fill="#fff" stroke="none" stroke-width="0.0" stroke-linejoin="round" stroke-linecap="round" />
<line x1="498.92" y1="387.88" x2="505.26" y2="391.69" stroke="#111" stroke-width="1.5" />
<line x1="508.39" y1="361.3" x2="514.74" y2="365.11" stroke="#111" stroke-width="1.5" />
<ellipse cx="510" cy="378.4" rx="8.62" ry="14.11" fill="#fff" stroke="#111" stroke-width="1.72" transform="rotate(19.62 510 378.4)" />
<line x1="498.23" y1="387.57" x2="501.83" y2="389.74" stroke="#222" stroke-width="0.6" />
<line x1="496.81" y1="386.51" x2="500.41" y2="388.67" stroke="#222" stroke-width="0.6" />
<line x1="495.66" y1="384.96" x2="499.26" y2="387.13" stroke="#222" stroke-width="0.6" />
<line x1="494.84" y1="383" x2="498.44" y2="385.16" stroke="#222" stroke-width="0.6" />
<line x1="494.37" y1="380.7" x2="497.97" y2="382.87" stroke="#222" stroke-width="0.6" />
<line x1="494.27" y1="378.16" x2="497.87" y2="380.32" stroke="#222" stroke-width="0.6" />
<line x1="494.55" y1="375.47" x2="498.15" y2="377.63" stroke="#222" stroke-width="0.6" />
<line x1="495.19" y1="372.75" x2="498.79" y2="374.91" stroke="#222" stroke-width="0.6" />
<line x1="496.18" y1="370.1" x2="499.78" y2="372.26" stroke="#222" stroke-width="0.6" />
<line x1="497.46" y1="367.63" x2="501.06" y2="369.79" stroke="#222" stroke-width="0.6" />
<line x1="498.99" y1="365.44" x2="502.59" y2="367.6" stroke="#222" stroke-width="0.6" />
<line x1="500.71" y1="363.62" x2="504.31" y2="365.78" stroke="#222" stroke-width="0.6" />
<line x1="502.55" y1="362.23" x2="506.15" y2="364.4" stroke="#222" stroke-width="0.6" />
<line x1="504.44" y1="361.35" x2="508.04" y2="363.51" stroke="#222" stroke-width="0.6" />
<line x1="506.29" y1="360.99" x2="509.89" y2="363.16" stroke="#222" stroke-width="0.6" />
<line x1="508.03" y1="361.19" x2="511.63" y2="363.35" stroke="#222" stroke-width="0.6" />
<ellipse cx="507.43" cy="376.85" rx="8.62" ry="14.11" fill="none" stroke="#111" stroke-width="0.92" transform="rotate(19.62 507.43 376.85)" />
<ellipse cx="510.3" cy="378.6" rx="7.07" ry="11.57" fill="#fff" stroke="#111" stroke-width="1.49" transform="rotate(19.62 510.3 378.6)" />
<ellipse cx="510.6" cy="378.8" rx="5.34" ry="8.75" fill="#fff" stroke="#111" stroke-width="1.15" transform="rotate(19.62 510.6 378.8)" />
<ellipse cx="510.9" cy="379" rx="3.62" ry="5.93" fill="#fff" stroke="#111" stroke-width="0.8" transform="rotate(19.62 510.9 379)" />
<path d="M508.4 384 L512.6 374.4 M509.8 385 L513.8 375.6" fill="none" stroke="#111" stroke-width="0.57" stroke-linejoin="round" stroke-linecap="round" />
<line x1="461.5" y1="350.05" x2="472" y2="356.61" stroke="#333" stroke-width="0.5" />
<ellipse cx="547.2" cy="401" rx="24.67" ry="40.51" fill="#fff" stroke="#111" stroke-width="1.61" transform="rotate(19.97 547.2 401)" />
<path d="M533.37 439.08 L543.47 444.68 L571.13 368.52 L561.03 362.92 Z" fill="#fff" stroke="none" stroke-width="0.0" stroke-linejoin="round" stroke-linecap="round" />
<line x1="533.37" y1="439.08" x2="543.47" y2="444.68" stroke="#111" stroke-width="1.4" />
<line x1="561.03" y1="362.92" x2="571.13" y2="368.52" stroke="#111" stroke-width="1.4" />
<ellipse cx="557.3" cy="406.6" rx="24.67" ry="40.51" fill="#fff" stroke="#111" stroke-width="1.38" transform="rotate(19.97 557.3 406.6)" />
<ellipse cx="557.9" cy="407" rx="22.94" ry="37.68" fill="#fff" stroke="#111" stroke-width="0.69" transform="rotate(19.97 557.9 407)" />
<ellipse cx="557.2" cy="411.2" rx="18.63" ry="30.19" fill="#fff" stroke="#111" stroke-width="0.92" transform="rotate(19.15 557.2 411.2)" />
<ellipse cx="557.4" cy="411.4" rx="17.03" ry="28.39" fill="#fff" stroke="#111" stroke-width="2.64" transform="rotate(19.15 557.4 411.4)" />
<ellipse cx="558.2" cy="411.8" rx="14.63" ry="25.79" fill="#fff" stroke="#111" stroke-width="1.03" transform="rotate(19.15 558.2 411.8)" />
<line x1="556.4" y1="408.9" x2="589.2" y2="428.1" stroke="#2a2a2a" stroke-width="0.7" />
<path d="M548.8 370.6 L552.8 369.2 L562.6 384.2 L562 391 L558.4 389.8 Z" fill="#fff" stroke="#111" stroke-width="1.15" stroke-linejoin="round" stroke-linecap="round" />
<path d="M559.8 372.6 L564 372 L569.4 382.8 L572.2 389.8 L568 391 L565.2 384.4 Z" fill="#fff" stroke="#111" stroke-width="1.15" stroke-linejoin="round" stroke-linecap="round" />
<path d="M559 390.4 L572.2 389.6 L573.6 398 L570.8 399.4 L562.6 396.6 L559.8 393.8 Z" fill="#fff" stroke="#111" stroke-width="1.26" stroke-linejoin="round" stroke-linecap="round" />
<path d="M563 390.4 L563.4 396.6 M566 390.2 L566.4 397.6" fill="none" stroke="#111" stroke-width="0.8" stroke-linejoin="round" stroke-linecap="round" />
<ellipse cx="572" cy="395.4" rx="1.6" ry="2.2" fill="#fff" stroke="#111" stroke-width="1.15" transform="rotate(10 572 395.4)" />
<path d="M549.6 371 L556 372.6 L561 380" fill="none" stroke="#111" stroke-width="0.8" stroke-linejoin="round" stroke-linecap="round" />
<path d="M555.6 432.2 L565.2 428 L569.4 430.8 L576.2 437.6 L575.6 444.6 L570.8 446 L562.6 443.2 L559.8 437.8 Z" fill="#fff" stroke="#111" stroke-width="1.26" stroke-linejoin="round" stroke-linecap="round" />
<path d="M562.6 436 L563 443 M566.6 435.2 L567 444.6 M567 438.4 L575.4 440.2 M562.6 436 L569.4 431" fill="none" stroke="#111" stroke-width="0.92" stroke-linejoin="round" stroke-linecap="round" />
<path d="M571 439.6 L574.6 440.4 L574.4 444 L571 443.4 Z" fill="#fff" stroke="#111" stroke-width="0.92" stroke-linejoin="round" stroke-linecap="round" />
<path d="M595.7 471.2 L595.7 439.2 C596.5 430 606 416 624.2 412.8 C628 412.4 631 413.6 633.1 415.1 L665 435.2 L648 497.6 L640 496 L634 492.6 Z" fill="#fff" stroke="#111" stroke-width="1.61" stroke-linejoin="round" stroke-linecap="round" />
<path d="M595.7 441.8 L593.8 441 L593.8 463.8 L595.7 464.8" fill="#fff" stroke="#111" stroke-width="1.15" stroke-linejoin="round" stroke-linecap="round" />
<ellipse cx="655.6" cy="466.2" rx="17.6" ry="33" fill="#fff" stroke="#111" stroke-width="1.49" transform="rotate(22.6 655.6 466.2)" />
<ellipse cx="656" cy="466.6" rx="15.2" ry="29.6" fill="#fff" stroke="#111" stroke-width="0.92" transform="rotate(22.6 656 466.6)" />
<path d="M660 436.6 L665.6 439.8 L668 437.4" fill="none" stroke="#111" stroke-width="0.92" stroke-linejoin="round" stroke-linecap="round" />
<line x1="596.6" y1="438" x2="637.8" y2="459.8" stroke="#111" stroke-width="0.8" />
<line x1="595.7" y1="449" x2="634" y2="468" stroke="#111" stroke-width="0.9" />
<line x1="595.7" y1="451.6" x2="634" y2="470.8" stroke="#111" stroke-width="0.9" />
<line x1="595.7" y1="461.4" x2="633.2" y2="481" stroke="#111" stroke-width="0.9" />
<line x1="595.7" y1="463.8" x2="633.4" y2="483.6" stroke="#111" stroke-width="0.9" />
<path d="M634 468 L638.6 465.6 L638.8 469 L634.2 471.2" fill="#fff" stroke="#111" stroke-width="1.03" stroke-linejoin="round" stroke-linecap="round" />
<path d="M641.4 457 C643.5 453.5 647.5 454.6 648.6 458 C650 463 645.6 470 646.6 478 C647 482 649 484.4 648 487.4 C646.6 490.6 641 490.6 638.8 487.8 C637 485 637.6 479 638 474 C638.4 468 638.6 461.6 641.4 457 Z" fill="#fff" stroke="#111" stroke-width="1.61" stroke-linejoin="round" stroke-linecap="round" />
<path d="M643 460.6 C640.5 467 641 479 642.6 485.4 M645.6 457.4 C643 464 644.6 476 645.4 483" fill="none" stroke="#111" stroke-width="0.92" stroke-linejoin="round" stroke-linecap="round" />
<path d="M656.4 442.6 C660 439.4 668 440.2 672.6 443.4 C676 446 676.4 452 675.6 458 C674.6 465 671 471 665.4 473.6 C662 475 659.4 472.4 660.8 469.4 C663.4 464 666.6 458 665.8 451.4 C665.4 448 662 447.6 658.4 447.6 C655.4 447.6 654.4 444.6 656.4 442.6 Z" fill="#fff" stroke="#111" stroke-width="1.61" stroke-linejoin="round" stroke-linecap="round" />
<path d="M659 444.6 C663 443 669.4 444.6 670.6 449.4 C671.6 456 668.6 465 664 470.6" fill="none" stroke="#111" stroke-width="0.92" stroke-linejoin="round" stroke-linecap="round" />
<path d="M649.4 446.6 C652 443 655 441.6 657.6 441.6 M636.4 486 C640 492.4 648 491.4 654 486.6" fill="none" stroke="#111" stroke-width="1.03" stroke-linejoin="round" stroke-linecap="round" />
<line x1="651.8" y1="466.8" x2="686.5" y2="487.3" stroke="#2a2a2a" stroke-width="0.7" />
<line x1="635.8" y1="376.7" x2="635.8" y2="415.6" stroke="#2a2a2a" stroke-width="0.7" />
<path d="M686.9 487.3 L707.4 475.4 L707.9 501.5 L687.2 514 Z" fill="#000" stroke="#000" stroke-width="0.69" stroke-linejoin="round" stroke-linecap="round" />
<path d="M689.4 510.8 L698.4 482.6 L703.9 501.4 M693.2 499.9 L701.4 495.5" fill="none" stroke="#fff" stroke-width="2.7" stroke-linejoin="round" stroke-linecap="round" />
<g transform="translate(438.6 419.8) rotate(30.2)">
<path d="M2 -2.0 L68 -2.0 L68 2.0 L2 2.0 Z" fill="#fff" stroke="#111" stroke-width="1.38" stroke-linejoin="round" stroke-linecap="round" />
<line x1="49" y1="-2" x2="49.6" y2="2" stroke="#222" stroke-width="0.6" />
<line x1="50.7" y1="-2" x2="51.3" y2="2" stroke="#222" stroke-width="0.6" />
<line x1="52.4" y1="-2" x2="53" y2="2" stroke="#222" stroke-width="0.6" />
<line x1="54.1" y1="-2" x2="54.7" y2="2" stroke="#222" stroke-width="0.6" />
<line x1="55.8" y1="-2" x2="56.4" y2="2" stroke="#222" stroke-width="0.6" />
<line x1="57.5" y1="-2" x2="58.1" y2="2" stroke="#222" stroke-width="0.6" />
<line x1="59.2" y1="-2" x2="59.8" y2="2" stroke="#222" stroke-width="0.6" />
<line x1="60.9" y1="-2" x2="61.5" y2="2" stroke="#222" stroke-width="0.6" />
<line x1="62.6" y1="-2" x2="63.2" y2="2" stroke="#222" stroke-width="0.6" />
<line x1="64.3" y1="-2" x2="64.9" y2="2" stroke="#222" stroke-width="0.6" />
<line x1="66" y1="-2" x2="66.6" y2="2" stroke="#222" stroke-width="0.6" />
<ellipse cx="0" cy="0" rx="3" ry="4.4" fill="#fff" stroke="#111" stroke-width="1.61" />
<ellipse cx="-0.9" cy="0" rx="1.9" ry="3.2" fill="#fff" stroke="#111" stroke-width="0.92" />
</g>
<path d="M334.6 657.6 L376.6 681.8 C377.4 682.3 377.6 682.8 377.6 683.6 L377.6 706 C377.6 707.4 376.8 707.8 375.8 707.2 L334.4 681.4 C333.6 680.9 333.4 680.4 333.4 679.6 L333.4 658.4 C333.4 657.4 333.8 657.2 334.6 657.6 Z" fill="#fff" stroke="#111" stroke-width="1.72" stroke-linejoin="round" stroke-linecap="round" />
<path d="M408.8 645.6 L408.8 654.2 C408.8 656 412.8 656 412.8 654.2 L412.8 645.6 Z" fill="#fff" stroke="#111" stroke-width="1.15" stroke-linejoin="round" stroke-linecap="round" />
<line x1="408.8" y1="648.6" x2="412.8" y2="649.2" stroke="#222" stroke-width="0.5" />
<line x1="408.8" y1="650.8" x2="412.8" y2="651.4" stroke="#222" stroke-width="0.5" />
<line x1="408.8" y1="653" x2="412.8" y2="653.6" stroke="#222" stroke-width="0.5" />
<ellipse cx="410.8" cy="643.4" rx="3.7" ry="2.8" fill="#fff" stroke="#111" stroke-width="1.49" />
<path d="M407.3 644 C408.6 645.6 413 645.6 414.3 644" fill="none" stroke="#111" stroke-width="0.69" stroke-linejoin="round" stroke-linecap="round" />
<path d="M389.6 662.2 L395.6 657.7 L410.2 665.2 L422.4 671.8 L422.2 673.8 L418.8 672.6 L418.4 676.4 L414 678.4 L412.4 683 L407 685.6 L402.6 683.6 L401.7 688.4 L393.1 685.4 L393.1 679.4 L389.6 677.4 Z" fill="#fff" stroke="#111" stroke-width="1.49" stroke-linejoin="round" stroke-linecap="round" />
<path d="M390.4 664 C390.4 662 394.6 662 394.6 664.6 L394.6 676.4 C394.6 678.4 390.4 677.2 390.4 675.4 Z" fill="#fff" stroke="#111" stroke-width="1.15" stroke-linejoin="round" stroke-linecap="round" />
<path d="M395.6 657.7 L396.2 660.6 L398.6 662 L398.8 674.6 L396 676.2 M398.6 662 L401.6 664.2 L401.6 670 L399 671.4 M401.6 664.2 L405.6 662.8 M393.1 679.4 L396.4 677.4 L402.6 680.6 L402.6 683.6" fill="none" stroke="#111" stroke-width="1.03" stroke-linejoin="round" stroke-linecap="round" />
<path d="M410.2 665.2 L410 668.6 L413.6 670.4 L413.6 676 L418.4 676.4 M413.6 670.4 L418.8 672.6" fill="none" stroke="#111" stroke-width="0.92" stroke-linejoin="round" stroke-linecap="round" />
<ellipse cx="408.2" cy="676.3" rx="3.5" ry="5" fill="#aaa" stroke="#111" stroke-width="1.49" transform="rotate(-8 408.2 676.3)" />
<ellipse cx="408.8" cy="676.5" rx="1.3" ry="1.9" fill="#fff" stroke="#111" stroke-width="0.92" transform="rotate(-8 408.8 676.5)" />
<path d="M404.8 673.4 L407.6 675.4 M404.8 678.8 L407.6 677.6 M409.4 671.6 L409 674.6 M409.4 681 L409.4 678.4 M411.6 676.4 L410 676.4" fill="none" stroke="#111" stroke-width="0.92" stroke-linejoin="round" stroke-linecap="round" />
<path d="M406.6 666 L409.4 667.6 M405.6 667.6 L408.6 669.2" fill="none" stroke="#111" stroke-width="1.38" stroke-linejoin="round" stroke-linecap="round" />
<path d="M391.6 690 L393.6 688.4 L402.2 693.5 L402.7 699.5 L400.2 701.6 L398.7 695.5 L391.8 692 Z" fill="#fff" stroke="#111" stroke-width="1.26" stroke-linejoin="round" stroke-linecap="round" />
<path d="M400.6 701 C401.2 704 400 707 397.4 710 C395.2 712.8 394.6 715.6 397.6 718" fill="none" stroke="#111" stroke-width="2.3" stroke-linejoin="round" stroke-linecap="round" />
<path d="M400.6 701 C401.2 704 400 707 397.4 710 C395.2 712.8 394.6 715.6 397.6 718" fill="none" stroke="#fff" stroke-width="0.57" stroke-linejoin="round" stroke-linecap="round" />
<path d="M392.1 711.2 L396.1 708.6 L405.7 713.1 L405.7 729.8 L401.2 732.3 L392.1 726.8 Z" fill="#fff" stroke="#111" stroke-width="1.61" stroke-linejoin="round" stroke-linecap="round" />
<path d="M392.1 711.2 L401.2 716 L405.7 713.1 M401.2 716 L401.2 732.3" fill="none" stroke="#111" stroke-width="1.03" stroke-linejoin="round" stroke-linecap="round" />
<path d="M400.6 701 C401.2 704 400 707 397.4 710 C396.2 711.4 395.6 712.6 395.4 713.6" fill="none" stroke="#111" stroke-width="2.3" stroke-linejoin="round" stroke-linecap="round" />
<path d="M400.6 701 C401.2 704 400 707 397.4 710 C396.2 711.4 395.6 712.6 395.4 713.6" fill="none" stroke="#fff" stroke-width="0.57" stroke-linejoin="round" stroke-linecap="round" />
<path d="M224.6 709.2 L245.7 696.8 L245.7 722.9 L224.6 735.5 Z" fill="#000" stroke="#000" stroke-width="0.69" stroke-linejoin="round" stroke-linecap="round" />
<path d="M227 732.6 L236.1 704.4 L241.6 723.2 M230.9 721.8 L239.1 717.4" fill="none" stroke="#fff" stroke-width="2.7" stroke-linejoin="round" stroke-linecap="round" stroke-linecap="butt"/>
<line x1="245.7" y1="723.6" x2="260.6" y2="731.8" stroke="#2a2a2a" stroke-width="0.7" />
<path d="M362 752 L377.5 750.7 L385.2 758.4 L396.7 764.6 L397.7 773.2 L433.2 798.2 L438.5 801 L442.7 810.1 L442.7 817.8 L451.4 825.5 L438 833.6 L436.6 838.4 L444 843.2 L444.4 848.6 L440.6 852 L435 850.6 L430 846.8 L423.6 850.4 L412 852.3 L377.5 835.1 L356.4 823.6 L345 800 Z" fill="#fff" stroke="#111" stroke-width="1.49" stroke-linejoin="round" stroke-linecap="round" />
<path d="M332.4 720.7 L377.5 750.7 C366 748.5 352 757 345 772 C337.5 789 341 813 356.4 823.6 L303.2 794.5 Z" fill="#fff" stroke="none" stroke-width="0.0" stroke-linejoin="round" stroke-linecap="round" />
<path d="M262.9 737.9 C263.28 736.63 263.6 733.17 265.2 730.3 C266.8 727.43 268.72 724.38 272.5 720.7 C276.28 717.02 282.78 711.72 287.9 708.2 C293.02 704.68 299.05 701.62 303.2 699.6 C307.35 697.58 309.6 696.27 312.8 696.1 C316 695.93 319.52 696.9 322.4 698.6 C325.28 700.3 328.43 703.58 330.1 706.3 C331.77 709.02 332.02 712.5 332.4 714.9 C332.78 717.3 332.4 719.73 332.4 720.7 L377.5 750.7 C366 748.5 352 757 345 772 C337.5 789 341 813 356.4 823.6 L303.2 794.5 C300.8 794.35 293.58 794.08 288.8 793.6 C284.02 793.12 277.85 792.57 274.5 791.6 C271.15 790.63 270.47 789.72 268.7 787.8 C266.93 785.88 265.18 783.62 263.9 780.1 C262.62 776.58 261.48 771.17 261 766.7 C260.52 762.23 260.68 758.1 261 753.3 C261.32 748.5 262.58 740.47 262.9 737.9 Z" fill="#fff" stroke="none" stroke-width="0.0" stroke-linejoin="round" stroke-linecap="round" />
<path d="M262.9 737.9 C263.28 736.63 263.6 733.17 265.2 730.3 C266.8 727.43 268.72 724.38 272.5 720.7 C276.28 717.02 282.78 711.72 287.9 708.2 C293.02 704.68 299.05 701.62 303.2 699.6 C307.35 697.58 309.6 696.27 312.8 696.1 C316 695.93 319.52 696.9 322.4 698.6 C325.28 700.3 328.43 703.58 330.1 706.3 C331.77 709.02 332.02 712.5 332.4 714.9 C332.78 717.3 332.4 719.73 332.4 720.7 L377.5 750.7" fill="none" stroke="#111" stroke-width="1.61" stroke-linejoin="round" stroke-linecap="round" />
<path d="M356.4 823.6 L303.2 794.5 C300.8 794.35 293.58 794.08 288.8 793.6 C284.02 793.12 277.85 792.57 274.5 791.6 C271.15 790.63 270.47 789.72 268.7 787.8 C266.93 785.88 265.18 783.62 263.9 780.1 C262.62 776.58 261.48 771.17 261 766.7 C260.52 762.23 260.68 758.1 261 753.3 C261.32 748.5 262.58 740.47 262.9 737.9" fill="none" stroke="#111" stroke-width="1.61" stroke-linejoin="round" stroke-linecap="round" />
<path d="M262.4 739 C260.4 748 260 760 261.6 771" fill="none" stroke="#111" stroke-width="2.99" stroke-linejoin="round" stroke-linecap="round" />
<path d="M377.5 750.7 C366 748.5 352 757 345 772 C337.5 789 341 813 356.4 823.6" fill="none" stroke="#333" stroke-width="0.8" stroke-linejoin="round" stroke-linecap="round" />
<path d="M374 752.6 C364 752.6 353 760 347.6 773.5 C341.5 789 344.5 809.5 356 820" fill="none" stroke="#444" stroke-width="0.69" stroke-linejoin="round" stroke-linecap="round" />
<path d="M272.5 748 C272.83 745.68 272.9 738.33 274.5 734.1 C276.1 729.87 278.27 726.43 282.1 722.6 C285.93 718.77 292.07 714.45 297.5 711.1 C302.93 707.75 310.62 703.92 314.7 702.5 C318.78 701.08 320.12 701.88 322 702.6 C323.88 703.32 325.1 705.07 326 706.8 C326.9 708.53 327.17 711.97 327.4 713" fill="none" stroke="#333" stroke-width="0.8" stroke-linejoin="round" stroke-linecap="round" />
<path d="M288.8 747.5 C289.28 745.27 289.62 737.93 291.7 734.1 C293.78 730.27 296.82 727.7 301.3 724.5 C305.78 721.3 314.25 716.82 318.6 714.9 C322.95 712.98 325.93 713.32 327.4 713" fill="none" stroke="#444" stroke-width="0.69" stroke-linejoin="round" stroke-linecap="round" />
<path d="M326.6 713.6 C326 717 327 720.4 329.4 721.6" fill="none" stroke="#111" stroke-width="0.92" stroke-linejoin="round" stroke-linecap="round" />
<line x1="293.6" y1="745.6" x2="339.7" y2="772.5" stroke="#333" stroke-width="0.6" />
<path d="M304.7 774.2 L334.9 792.9 L333.8 804.9 L305 787.9" fill="none" stroke="#333" stroke-width="0.69" stroke-linejoin="round" stroke-linecap="round" />
<path d="M270.6 756.4 C270.95 753.2 271.97 752.8 273 752 C274.03 751.2 274.78 748.95 278.3 750.4 C281.82 751.85 296.05 760.77 299.4 762.9 C302.75 765.03 302.73 765.24 303.4 766.4 C304.07 767.56 304.35 768.85 304.4 771.6 C304.45 774.35 304.17 784.36 303.8 787 C303.43 789.64 302.44 790.63 301.6 791.4 C300.76 792.17 298.83 792.8 297.5 792.8 C296.17 792.8 294.93 793.09 291.6 791.4 C288.27 789.71 275.33 782.15 272.5 780.1 C269.67 778.05 270.65 779.16 270.4 776 C270.15 772.84 270.25 759.6 270.6 756.4 Z" fill="#fff" stroke="#111" stroke-width="1.49" stroke-linejoin="round" stroke-linecap="round" />
<path d="M272.6 757.6 C272.77 756.32 272.43 755.6 274.6 756.6 C276.77 757.6 296.53 768.32 298.6 769.6 C300.67 770.88 299.33 770.8 299.4 772 C299.47 773.2 299.57 782.87 299.4 784 C299.23 785.13 299.48 786.4 297.4 785.6 C295.32 784.8 276.47 775.53 274.4 774.4 C272.33 773.27 272.75 773.4 272.6 772 C272.45 770.6 272.43 758.88 272.6 757.6 Z" fill="#fff" stroke="#111" stroke-width="1.03" stroke-linejoin="round" stroke-linecap="round" />
<path d="M272.8 772.4 L276 778 L296 789 L299.2 785" fill="none" stroke="#111" stroke-width="0.8" stroke-linejoin="round" stroke-linecap="round" />
<path d="M276 760 L279.2 761.6 L279.2 768.6 L276 767 Z" fill="#fff" stroke="#111" stroke-width="1.15" stroke-linejoin="round" stroke-linecap="round" />
<line x1="277.4" y1="761" x2="277.4" y2="767.4" stroke="#222" stroke-width="1.0" />
<path d="M284 761.4 L292.6 766 L292.6 778.4 L284 773.8 Z" fill="#fff" stroke="#111" stroke-width="1.03" stroke-linejoin="round" stroke-linecap="round" />
<line x1="285" y1="763.6" x2="292" y2="767.3" stroke="#222" stroke-width="1.3" />
<line x1="285" y1="766.6" x2="292" y2="770.3" stroke="#222" stroke-width="1.3" />
<line x1="285" y1="769.6" x2="292" y2="773.3" stroke="#222" stroke-width="1.3" />
<line x1="285" y1="772.6" x2="292" y2="776.3" stroke="#222" stroke-width="1.3" />
<path d="M344.9 779.6 L347 776 L350.8 775 L355 777.4 L355.6 783 L357.4 787.4 L352 786.4 L350 783 L346.4 782.4 Z" fill="#fff" stroke="#111" stroke-width="1.03" stroke-linejoin="round" stroke-linecap="round" />
<path d="M347 776 L349.4 779.4 L355 777.4 M349.4 779.4 L350 783" fill="none" stroke="#111" stroke-width="0.69" stroke-linejoin="round" stroke-linecap="round" />
<path d="M359.4 771.8 L381.6 785 L383.2 796.8 L379.6 798.6 L366 790.6 Z" fill="#fff" stroke="#111" stroke-width="1.26" stroke-linejoin="round" stroke-linecap="round" />
<path d="M359.4 771.8 L355.6 783 L366 790.6 M357.4 787.4 L368.4 793.6" fill="none" stroke="#111" stroke-width="1.03" stroke-linejoin="round" stroke-linecap="round" />
<path d="M356.6 783.4 L364.6 788.4 L360.6 778.4 Z" fill="#fff" stroke="#111" stroke-width="0.8" stroke-linejoin="round" stroke-linecap="round" />
<path d="M360.4 766 L366.6 760.6 L371.8 756.4 L379.4 756.4 L386 762.6 L386.2 767 M360.4 766 L368 770.6 L372.4 766.6 L372.2 759 M368 770.6 L368.4 774.6" fill="none" stroke="#111" stroke-width="1.03" stroke-linejoin="round" stroke-linecap="round" />
<path d="M372.4 766.6 L381 771.6 L385.6 768 M381 771.6 L381 777" fill="none" stroke="#111" stroke-width="0.92" stroke-linejoin="round" stroke-linecap="round" />
<path d="M385 768 L385 789 L388.6 791 L388.6 770" fill="#fff" stroke="#111" stroke-width="1.03" stroke-linejoin="round" stroke-linecap="round" />
<ellipse cx="389.4" cy="768.4" rx="2.4" ry="1.5" fill="#fff" stroke="#111" stroke-width="0.92" />
<path d="M387 768.6 L387 775.4 M391.8 768.6 L391.8 776" fill="none" stroke="#111" stroke-width="0.92" stroke-linejoin="round" stroke-linecap="round" />
<path d="M381.8 779.6 C382.6 778 384.6 778 385 779.4" fill="none" stroke="#111" stroke-width="0.92" stroke-linejoin="round" stroke-linecap="round" />
<path d="M392 775.6 L432.6 798.8 M389.6 779.4 L411 791.6 M397.7 773.2 L397.7 777.8" fill="none" stroke="#111" stroke-width="1.03" stroke-linejoin="round" stroke-linecap="round" />
<path d="M397 785 L397 795 M403.4 788.6 L403.4 798 M397 795 L403.4 798 L410 794.4 L410 791" fill="none" stroke="#111" stroke-width="0.92" stroke-linejoin="round" stroke-linecap="round" />
<path d="M403.4 798 L407.4 800.6 L418 795 L418 799.6" fill="none" stroke="#111" stroke-width="0.92" stroke-linejoin="round" stroke-linecap="round" />
<path d="M391.6 798.4 C392.4 796.8 395.6 798 397.4 799.4 C398.6 800.6 398 802.4 396.4 802 C394.4 801.4 391 800 391.6 798.4 Z" fill="#fff" stroke="#111" stroke-width="0.92" stroke-linejoin="round" stroke-linecap="round" />
<path d="M362 801 L375 808.6 L382 808.6 L386 811 L390 809.6 L414 823.6 L430 824.6" fill="none" stroke="#111" stroke-width="1.15" stroke-linejoin="round" stroke-linecap="round" />
<path d="M362 801 L362 818 M375 808.6 L375 812 M383.4 812 L383.4 826.6 L388.6 829.4 M383.4 812 L388 810.4" fill="none" stroke="#111" stroke-width="1.03" stroke-linejoin="round" stroke-linecap="round" />
<path d="M363.2 806 L367 804.4 L370.8 806.6 L370.8 814.6 L366 816 L363.2 814 Z" fill="#fff" stroke="#111" stroke-width="1.03" stroke-linejoin="round" stroke-linecap="round" />
<path d="M365.4 808.2 L368.6 810 L368.6 814 L365.4 812.4 Z" fill="#fff" stroke="#111" stroke-width="0.8" stroke-linejoin="round" stroke-linecap="round" />
<path d="M389 826.6 L400 821.6 L412.4 828.8 L403 836.6 Z" fill="#ccc" stroke="#111" stroke-width="0.92" stroke-linejoin="round" stroke-linecap="round" />
<line x1="390" y1="828" x2="400.6" y2="823" stroke="#222" stroke-width="0.7" />
<line x1="392.6" y1="829.5" x2="403.2" y2="824.5" stroke="#222" stroke-width="0.7" />
<line x1="395.2" y1="831" x2="405.8" y2="826" stroke="#222" stroke-width="0.7" />
<line x1="397.8" y1="832.5" x2="408.4" y2="827.5" stroke="#222" stroke-width="0.7" />
<line x1="400.4" y1="834" x2="411" y2="829" stroke="#222" stroke-width="0.7" />
<path d="M403 836.6 L403 840.6 L412.4 833.4 L412.4 828.8" fill="#fff" stroke="#111" stroke-width="0.92" stroke-linejoin="round" stroke-linecap="round" />
<path d="M388.6 829.4 L412 844.6 L412 852 M417 824.4 L417 846 L412 844.6" fill="none" stroke="#111" stroke-width="1.03" stroke-linejoin="round" stroke-linecap="round" />
<path d="M414 806 L418.6 803.6 L418.8 800.4 L424 797.6 L431.6 802 L437 806.4 L439 812 L439 822.6 L436.6 826.4 L430.4 827.6 L424 824.6 L424 817 L420 818.6 L414 815.4 Z" fill="#fff" stroke="#111" stroke-width="1.26" stroke-linejoin="round" stroke-linecap="round" />
<path d="M414 806 L420 809.4 L420 818.6 M420 809.4 L424.6 807 L424.6 803 M424 817 C424 810 428 806.4 432 806.4 C436 806.4 438.6 810 439 814" fill="none" stroke="#111" stroke-width="0.92" stroke-linejoin="round" stroke-linecap="round" />
<path d="M439 812 L442.7 810.1 M439 818.6 L445 821.6 L445.4 826.4 M440.6 812.6 L440.6 817.4" fill="none" stroke="#111" stroke-width="0.92" stroke-linejoin="round" stroke-linecap="round" />
<path d="M430.6 834 L438 833.6 M426.4 832.4 L433 836.4" fill="none" stroke="#111" stroke-width="1.61" stroke-linejoin="round" stroke-linecap="round" />
<path d="M424 838.6 L428.6 836 L431.6 838 L431.6 841.6 L434 843.4 L434 848 L430 846.8 L424 844 Z" fill="#fff" stroke="#111" stroke-width="1.03" stroke-linejoin="round" stroke-linecap="round" />
<g transform="translate(436.6 845) rotate(30)">
<path d="M-4 -3.4 L4 -3.4 L4 3.4 L-4 3.4 Z" fill="#fff" stroke="#111" stroke-width="1.15" stroke-linejoin="round" stroke-linecap="round" />
<line x1="-2" y1="-3.4" x2="-2" y2="3.4" stroke="#222" stroke-width="0.7" />
<line x1="0.4" y1="-3.4" x2="0.4" y2="3.4" stroke="#222" stroke-width="0.7" />
<ellipse cx="4" cy="0" rx="2" ry="3.4" fill="#fff" stroke="#111" stroke-width="1.15" />
<ellipse cx="4.2" cy="0" rx="0.9" ry="1.5" fill="#fff" stroke="#111" stroke-width="0.92" />
</g>
<path d="M211 796.4 C211.86 794.54 215.09 791.34 217 791.5 C218.91 791.66 225.39 796.75 227.4 797.8 C229.41 798.85 233.1 799.78 234.2 800.5 C235.3 801.22 236.47 803.01 236.8 804 C237.13 804.99 237.14 807.17 237 809 C236.86 810.83 236.3 818.42 235.6 819.7 C234.9 820.98 231.96 820.15 231 820 C230.04 819.85 228.78 819.08 227.4 818.4 C226.02 817.72 221.11 814.69 219.2 814.2 C217.29 813.71 212.12 814.99 211 814.2 C209.88 813.41 209.6 809.48 209.6 807.4 C209.6 805.32 210.14 798.25 211 796.4 Z" fill="#fff" stroke="#111" stroke-width="1.49" stroke-linejoin="round" stroke-linecap="round" />
<line x1="212.6" y1="797" x2="212.6" y2="811.6" stroke="#444" stroke-width="0.6" />
<line x1="215.1" y1="797.9" x2="215.1" y2="812.5" stroke="#444" stroke-width="0.6" />
<line x1="217.6" y1="798.8" x2="217.6" y2="813.4" stroke="#444" stroke-width="0.6" />
<line x1="220.1" y1="799.7" x2="220.1" y2="814.3" stroke="#444" stroke-width="0.6" />
<line x1="222.6" y1="800.6" x2="222.6" y2="815.2" stroke="#444" stroke-width="0.6" />
<line x1="225.1" y1="801.5" x2="225.1" y2="816.1" stroke="#444" stroke-width="0.6" />
<line x1="227.6" y1="802.4" x2="227.6" y2="817" stroke="#444" stroke-width="0.6" />
<path d="M227.4 797.8 L229.6 797.2 L231.4 799.4" fill="none" stroke="#111" stroke-width="0.92" stroke-linejoin="round" stroke-linecap="round" />
<path d="M381.1 852.3 L386 848.6 L392.2 849.4 L394.7 852.7 L394.4 857 L384.4 862.1 L384 871.2 L381.1 866.2 Z" fill="#fff" stroke="#111" stroke-width="1.38" stroke-linejoin="round" stroke-linecap="round" />
<ellipse cx="389.7" cy="852.9" rx="2.9" ry="1.8" fill="#fff" stroke="#111" stroke-width="1.15" />
<path d="M384.4 862.1 L397.1 853.5 L400.4 851.4 L408.6 856 L409.4 865.4 L411.4 866.6 L411.6 869 L409.4 869.6 L406.6 867.6 L406.2 860 L402.6 858 L402.6 868.6 L398 873 L393.4 874.4 L396.7 877.7 L394.7 879.6 L384 871.2 Z" fill="#fff" stroke="#111" stroke-width="1.49" stroke-linejoin="round" stroke-linecap="round" />
<path d="M402.6 858 L401.6 853.6 M397.1 853.5 L397.4 857 M406.2 860 L404 858.6 L404 864.6" fill="none" stroke="#111" stroke-width="1.03" stroke-linejoin="round" stroke-linecap="round" />
<ellipse cx="396.3" cy="866.2" rx="3.9" ry="5.6" fill="#aaa" stroke="#111" stroke-width="1.61" transform="rotate(-12 396.3 866.2)" />
<ellipse cx="396.9" cy="866.4" rx="1.5" ry="2.2" fill="#fff" stroke="#111" stroke-width="1.03" transform="rotate(-12 396.9 866.4)" />
<path d="M392.6 870.4 L396.6 867 M387 864.6 L391 868.6" fill="none" stroke="#111" stroke-width="1.15" stroke-linejoin="round" stroke-linecap="round" />
<g transform="translate(352.6 905.4) rotate(30)">
<ellipse cx="1.2" cy="0" rx="1.2" ry="3.5" fill="none" stroke="#111" stroke-width="1.26" transform="rotate(8 1.2 0)" />
<ellipse cx="3.15" cy="0" rx="1.2" ry="3.5" fill="none" stroke="#111" stroke-width="1.26" transform="rotate(8 3.15 0)" />
<ellipse cx="5.1" cy="0" rx="1.2" ry="3.5" fill="none" stroke="#111" stroke-width="1.26" transform="rotate(8 5.1 0)" />
<ellipse cx="7.05" cy="0" rx="1.2" ry="3.5" fill="none" stroke="#111" stroke-width="1.26" transform="rotate(8 7.05 0)" />
<ellipse cx="9" cy="0" rx="1.2" ry="3.5" fill="none" stroke="#111" stroke-width="1.26" transform="rotate(8 9 0)" />
<ellipse cx="10.95" cy="0" rx="1.2" ry="3.5" fill="none" stroke="#111" stroke-width="1.26" transform="rotate(8 10.95 0)" />
<ellipse cx="12.9" cy="0" rx="1.2" ry="3.5" fill="none" stroke="#111" stroke-width="1.26" transform="rotate(8 12.9 0)" />
<ellipse cx="14.85" cy="0" rx="1.2" ry="3.5" fill="none" stroke="#111" stroke-width="1.26" transform="rotate(8 14.85 0)" />
<ellipse cx="16.8" cy="0" rx="1.2" ry="3.5" fill="none" stroke="#111" stroke-width="1.26" transform="rotate(8 16.8 0)" />
</g>
<path d="M235.4 883.6 L239.9 882.3 L252.2 886.8 L253.4 891 L248.5 897.1 L236.2 893.4 Z" fill="#fff" stroke="#111" stroke-width="1.38" stroke-linejoin="round" stroke-linecap="round" />
<path d="M237.9 886.8 L248.5 889.8 L247.8 893.4 L238.6 891.7 Z" fill="#fff" stroke="#111" stroke-width="1.03" stroke-linejoin="round" stroke-linecap="round" />
<path d="M239.9 882.3 L240.4 886 M248.5 889.8 L252.2 886.8" fill="none" stroke="#111" stroke-width="0.8" stroke-linejoin="round" stroke-linecap="round" />
<path d="M253.4 888.5 L304 920.5 L300.3 929.2 L249.7 896.6 Z" fill="#fff" stroke="#111" stroke-width="1.38" stroke-linejoin="round" stroke-linecap="round" />
<path d="M254.6 892.6 L296.6 919.6 L295.4 922.6 L252.6 895.2" fill="none" stroke="#111" stroke-width="0.92" stroke-linejoin="round" stroke-linecap="round" />
<path d="M304 920.5 L308 921.6 L333.6 931.6 L338.5 936.6 L334.6 941 L328.6 950.1 L326.2 946.4 L300.3 929.2 Z" fill="#fff" stroke="#111" stroke-width="1.38" stroke-linejoin="round" stroke-linecap="round" />
<path d="M307.6 927.9 L323.6 935.3 L322.6 937.6 L306.6 930 Z" fill="#fff" stroke="#111" stroke-width="1.03" stroke-linejoin="round" stroke-linecap="round" />
<path d="M303.6 923.6 L304.6 928.6 M308 921.6 L306.4 925.6" fill="none" stroke="#111" stroke-width="0.8" stroke-linejoin="round" stroke-linecap="round" />
<ellipse cx="324.9" cy="936.3" rx="1" ry="1" fill="#fff" stroke="#111" stroke-width="0.92" />
<ellipse cx="324.9" cy="943.5" rx="1" ry="1" fill="#fff" stroke="#111" stroke-width="0.92" />
<path d="M333.6 931.6 L338.5 936.6 L345.9 934.6 L353.3 940.3 L363.1 942.7 L371.8 940.3 L374.2 944 L370.5 952.6 L358.2 960 L328.6 950.1 L331 944.6 Z" fill="#fff" stroke="#111" stroke-width="1.49" stroke-linejoin="round" stroke-linecap="round" />
<path d="M338.5 936.6 L334.4 942 L357.4 951 L358.2 960 M357.4 951 L362 944.6 L371.8 940.3 M334.4 942 L331 944.6 M345.9 934.6 L343 938.4 L352 942.4 L353.3 940.3 M338 944.6 L355 951.6" fill="none" stroke="#111" stroke-width="0.92" stroke-linejoin="round" stroke-linecap="round" />
<path d="M462.3 759 L483.3 747.2 L498.1 756.6 L498.1 783.7 L478.4 794.8 L462.3 784.9 Z" fill="#fff" stroke="#111" stroke-width="1.49" stroke-linejoin="round" stroke-linecap="round" />
<path d="M462.3 759 L478.4 768.9 L498.1 756.6 M478.4 768.9 L478.4 794.8" fill="none" stroke="#111" stroke-width="1.15" stroke-linejoin="round" stroke-linecap="round" />
<path d="M474 762.4 C473.4 761.4 474 760.4 475 759.8 L487.6 752.6 C488.8 752 490 752.6 490 753.6 C490 754.4 489.6 755 488.8 755.4 L476 762.8 C475.2 763.2 474.4 763 474 762.4 Z" fill="#fff" stroke="#111" stroke-width="1.03" stroke-linejoin="round" stroke-linecap="round" />
<path d="M464.4 764.6 L469.0 767.4 L469.0 775.0 L464.4 772.2 Z" fill="#fff" stroke="#111" stroke-width="0.92" stroke-linejoin="round" stroke-linecap="round" />
<path d="M470.4 768.2 L475.0 771.0 L475.0 778.6 L470.4 775.8000000000001 Z" fill="#fff" stroke="#111" stroke-width="0.92" stroke-linejoin="round" stroke-linecap="round" />
<path d="M464.4 776.6 L469.0 779.4 L469.0 787.0 L464.4 784.2 Z" fill="#fff" stroke="#111" stroke-width="0.92" stroke-linejoin="round" stroke-linecap="round" />
<path d="M470.4 780.2 L475.0 783.0 L475.0 790.6 L470.4 787.8000000000001 Z" fill="#fff" stroke="#111" stroke-width="0.92" stroke-linejoin="round" stroke-linecap="round" />
<line x1="462.3" y1="772" x2="478.4" y2="781.9" stroke="#222" stroke-width="0.8" />
<ellipse cx="466.4" cy="769.6" rx="1.1" ry="1.3" fill="#fff" stroke="#111" stroke-width="0.8" />
<ellipse cx="466.4" cy="781.4" rx="1.1" ry="1.3" fill="#fff" stroke="#111" stroke-width="0.8" />
<path d="M483.6 777.4 C483 773.4 485 770.2 488 770 C490.4 769.8 492 772 492.6 775.4 L494.6 777.6 C496.4 778.4 496.8 781 495.6 782.4 C494.4 783.6 492.4 783.6 491 782.4 C488 783.6 484.4 781.6 483.6 777.4 Z" fill="#fff" stroke="#111" stroke-width="1.15" stroke-linejoin="round" stroke-linecap="round" />
<path d="M492.6 775.4 C491.6 777.4 490.6 779.6 491 782.4" fill="none" stroke="#111" stroke-width="0.8" stroke-linejoin="round" stroke-linecap="round" />
<path d="M526.4 771 C526.4 766 530 762.7 534 762.9 C540 763.2 544.9 769 544.9 775 L544.9 789.6 C544.9 794.6 541.4 797.6 537.6 797.2 C531.4 796.6 526.4 791 526.4 785 Z" fill="#fff" stroke="#111" stroke-width="1.49" stroke-linejoin="round" stroke-linecap="round" />
<path d="M529 772 C529 768 531.6 766.2 534.4 766.6 C538 767.2 541 771 541 775 L541 787.6 C541 791.6 538.6 793.6 536 793.2 C532 792.6 529 788.6 529 785 Z" fill="#fff" stroke="#111" stroke-width="1.03" stroke-linejoin="round" stroke-linecap="round" />
<path d="M532.4 771.6 L532.4 788 M536 773 L536 789.6 M532.4 774 C534 773 535.6 773.6 536 775.4 M532.4 786 C534 787.6 535.6 787.4 536 786" fill="none" stroke="#111" stroke-width="0.92" stroke-linejoin="round" stroke-linecap="round" />
<line x1="534.2" y1="773" x2="534.2" y2="788" stroke="#999" stroke-width="1.2" />
<g transform="translate(562.9 757.8) rotate(147)">
<path d="M2 -2.0 L17 -1.5 L19.6 0 L17 1.5 L2 2.0 Z" fill="#ccc" stroke="#111" stroke-width="1.15" stroke-linejoin="round" stroke-linecap="round" />
<line x1="4" y1="-2" x2="4.9" y2="2" stroke="#222" stroke-width="0.7" />
<line x1="5.9" y1="-2" x2="6.8" y2="2" stroke="#222" stroke-width="0.7" />
<line x1="7.8" y1="-2" x2="8.7" y2="2" stroke="#222" stroke-width="0.7" />
<line x1="9.7" y1="-2" x2="10.6" y2="2" stroke="#222" stroke-width="0.7" />
<line x1="11.6" y1="-2" x2="12.5" y2="2" stroke="#222" stroke-width="0.7" />
<line x1="13.5" y1="-2" x2="14.4" y2="2" stroke="#222" stroke-width="0.7" />
<line x1="15.4" y1="-2" x2="16.3" y2="2" stroke="#222" stroke-width="0.7" />
<line x1="17.3" y1="-2" x2="18.2" y2="2" stroke="#222" stroke-width="0.7" />
<ellipse cx="0" cy="0" rx="2.7" ry="4.4" fill="#fff" stroke="#111" stroke-width="1.49" />
<ellipse cx="-1" cy="0" rx="1.8" ry="3.3" fill="#fff" stroke="#111" stroke-width="0.92" />
</g>
<line x1="586" y1="725.6" x2="574.5" y2="735.6" stroke="#111" stroke-width="1.1" />
<line x1="594.6" y1="731.6" x2="583.1" y2="741.3" stroke="#111" stroke-width="1.1" />
<line x1="602" y1="737.8" x2="591" y2="746.2" stroke="#111" stroke-width="1.1" />
<path d="M583.1 722 L601.6 711 L622.6 723.3 L622.6 731.9 L605.3 743 L583.1 729.4 Z" fill="#fff" stroke="#111" stroke-width="1.38" stroke-linejoin="round" stroke-linecap="round" />
<path d="M583.1 722 L605.3 734.4 L622.6 723.3 M605.3 734.4 L605.3 743" fill="none" stroke="#111" stroke-width="1.03" stroke-linejoin="round" stroke-linecap="round" />
<ellipse cx="602.6" cy="784.6" rx="7.2" ry="14.2" fill="#fff" stroke="#111" stroke-width="1.49" transform="rotate(28 602.6 784.6)" />
<path d="M609.3 772.1 L612.7 774.1 M596 797.2 L599.4 799.2" fill="none" stroke="#111" stroke-width="1.38" stroke-linejoin="round" stroke-linecap="round" />
<ellipse cx="606" cy="786.6" rx="7.2" ry="14.2" fill="#fff" stroke="#111" stroke-width="1.38" transform="rotate(28 606 786.6)" />
<ellipse cx="606.6" cy="787" rx="5.6" ry="11.6" fill="#fff" stroke="#111" stroke-width="0.8" transform="rotate(28 606.6 787)" />
<path d="M611.4 778.4 L696.4 830.4 L688.2 845.2 L602.4 796.4 Z" fill="#fff" stroke="none" stroke-width="0.0" stroke-linejoin="round" stroke-linecap="round" />
<ellipse cx="606.8" cy="787.4" rx="4.6" ry="10.2" fill="#fff" stroke="#111" stroke-width="0.0" transform="rotate(28 606.8 787.4)" />
<line x1="611.6" y1="778.6" x2="696.4" y2="830.4" stroke="#111" stroke-width="1.5" />
<line x1="602.2" y1="796.2" x2="688.2" y2="845.2" stroke="#111" stroke-width="1.5" />
<ellipse cx="693" cy="838.6" rx="5.2" ry="9.2" fill="#fff" stroke="#111" stroke-width="1.72" transform="rotate(30 693 838.6)" />
<ellipse cx="693.2" cy="838.8" rx="3.4" ry="6.6" fill="#fff" stroke="#111" stroke-width="1.15" transform="rotate(30 693.2 838.8)" />
<path d="M643.5 875.6 C638 872 635 870 633.4 866.6 M641 879 C636 876.4 631.6 876.2 627.5 873.9" fill="none" stroke="#111" stroke-width="1.03" stroke-linejoin="round" stroke-linecap="round" />
<path d="M645 874.4 L685.3 898.2 C686.8 899.4 682.6 906.4 679.9 906.6 L639.6 882.6 C638.4 881 643 874.6 645 874.4 Z" fill="#fff" stroke="#111" stroke-width="1.49" stroke-linejoin="round" stroke-linecap="round" />
<path d="M685.3 898.2 C683 899.4 680.6 903 679.9 906.6" fill="none" stroke="#111" stroke-width="0.92" stroke-linejoin="round" stroke-linecap="round" />
<path d="M474 889.4 C474 885.7 473.57 873.97 474 867.2 C474.43 860.43 474.32 854.03 476.6 848.8 C478.88 843.57 483.38 838.88 487.7 835.8 C492.02 832.72 497.87 830.92 502.5 830.3 C507.13 829.68 513.33 831.8 515.5 832.1 L587.6 879.1 C588.52 880.82 592.15 884.6 593.1 889.4 C594.05 894.2 594.22 901.73 593.3 907.9 C592.38 914.07 590.72 920.85 587.6 926.4 C584.48 931.95 579.23 938.12 574.6 941.2 C569.97 944.28 564.1 944.9 559.8 944.9 C555.5 944.9 550.63 941.82 548.8 941.2 L478.5 900.5 C476 898 474.4 894 474 889.4 Z" fill="#fff" stroke="#111" stroke-width="1.61" stroke-linejoin="round" stroke-linecap="round" />
<path d="M587.6 880 C585.83 880.43 580.4 881.03 577 882.6 C573.6 884.17 570.1 886.83 567.2 889.4 C564.3 891.97 561.32 894.92 559.6 898 C557.88 901.08 557.43 904.57 556.9 907.9 C556.37 911.23 556.4 914.92 556.4 918 C556.4 921.08 556.47 923.4 556.9 926.4 C557.33 929.4 558.15 933.13 559 936 C559.85 938.87 561.5 942.33 562 943.6" fill="none" stroke="#333" stroke-width="0.8" stroke-linejoin="round" stroke-linecap="round" />
<path d="M585 887 C583.33 887.5 578 888.33 575 890 C572 891.67 568.9 894 567 897 C565.1 900 564.2 904.17 563.6 908 C563 911.83 563 916.4 563.4 920 C563.8 923.6 564.73 927.27 566 929.6 C567.27 931.93 570.17 933.27 571 934" fill="none" stroke="#555" stroke-width="0.69" stroke-linejoin="round" stroke-linecap="round" />
<line x1="478.5" y1="865.4" x2="554.3" y2="911.6" stroke="#444" stroke-width="0.6" />
<ellipse cx="580.4" cy="908.8" rx="8" ry="11" fill="#fff" stroke="#111" stroke-width="1.61" transform="rotate(22 580.4 908.8)" />
<ellipse cx="581" cy="909" rx="5.6" ry="8.2" fill="#fff" stroke="#111" stroke-width="1.26" transform="rotate(22 581 909)" />
<path d="M514.6 897.4 L530 906 L530 908.8 L514.6 900.2 Z" fill="#fff" stroke="#111" stroke-width="1.15" stroke-linejoin="round" stroke-linecap="round" />
<path d="M514.6 904.4 L530 913 L530 915.8 L514.6 907.2 Z" fill="#fff" stroke="#111" stroke-width="1.15" stroke-linejoin="round" stroke-linecap="round" />
<path d="M514.6 911.4 L530 920 L530 922.8 L514.6 914.2 Z" fill="#fff" stroke="#111" stroke-width="1.15" stroke-linejoin="round" stroke-linecap="round" />
<path d="M514.6 918.4 L530 927 L530 929.8 L514.6 921.2 Z" fill="#fff" stroke="#111" stroke-width="1.15" stroke-linejoin="round" stroke-linecap="round" />
<path d="M533.2 907.8 L548.6 916.4 L548.6 919.2 L533.2 910.6 Z" fill="#fff" stroke="#111" stroke-width="1.15" stroke-linejoin="round" stroke-linecap="round" />
<path d="M533.2 914.8 L548.6 923.4 L548.6 926.2 L533.2 917.6 Z" fill="#fff" stroke="#111" stroke-width="1.15" stroke-linejoin="round" stroke-linecap="round" />
<path d="M533.2 921.8 L548.6 930.4 L548.6 933.2 L533.2 924.6 Z" fill="#fff" stroke="#111" stroke-width="1.15" stroke-linejoin="round" stroke-linecap="round" />
<path d="M533.2 928.8 L548.6 937.4 L548.6 940.2 L533.2 931.6 Z" fill="#fff" stroke="#111" stroke-width="1.15" stroke-linejoin="round" stroke-linecap="round" />
<path d="M559.6 932 C566 930.6 576 925.6 586 920.6 L586.6 923 C577 928.2 567 933 560.6 934.4 Z" fill="#fff" stroke="#111" stroke-width="1.03" stroke-linejoin="round" stroke-linecap="round" />
<path d="M560.8 937.2 C566 935.8 576 930.8 583.8 925.8 L584.4 928.2 C577 933.4 567 938.2 561.8 939.6 Z" fill="#fff" stroke="#111" stroke-width="1.03" stroke-linejoin="round" stroke-linecap="round" />
<path d="M562 942.4 C566 941 576 936 581.6 931 L582.2 933.4 C577 938.6 567 943.4 563 944.8 Z" fill="#fff" stroke="#111" stroke-width="1.03" stroke-linejoin="round" stroke-linecap="round" />
<ellipse cx="577.6" cy="936.6" rx="2.2" ry="3" fill="#fff" stroke="#111" stroke-width="1.03" transform="rotate(25 577.6 936.6)" />
<g transform="translate(602.4 948.8) rotate(212)">
<path d="M2 -1.9 L16 -1.4 L18.6 0 L16 1.4 L2 1.9 Z" fill="#ccc" stroke="#111" stroke-width="1.15" stroke-linejoin="round" stroke-linecap="round" />
<line x1="4" y1="-1.9" x2="4.9" y2="1.9" stroke="#222" stroke-width="0.7" />
<line x1="5.9" y1="-1.9" x2="6.8" y2="1.9" stroke="#222" stroke-width="0.7" />
<line x1="7.8" y1="-1.9" x2="8.7" y2="1.9" stroke="#222" stroke-width="0.7" />
<line x1="9.7" y1="-1.9" x2="10.6" y2="1.9" stroke="#222" stroke-width="0.7" />
<line x1="11.6" y1="-1.9" x2="12.5" y2="1.9" stroke="#222" stroke-width="0.7" />
<line x1="13.5" y1="-1.9" x2="14.4" y2="1.9" stroke="#222" stroke-width="0.7" />
<line x1="15.4" y1="-1.9" x2="16.3" y2="1.9" stroke="#222" stroke-width="0.7" />
<ellipse cx="0" cy="0" rx="2.8" ry="4.5" fill="#fff" stroke="#111" stroke-width="1.49" />
<ellipse cx="-1" cy="0" rx="1.9" ry="3.4" fill="#fff" stroke="#111" stroke-width="0.92" />
</g>
<text x="84.2" y="34.8" font-size="12" text-anchor="middle" >13</text>
<text x="84.2" y="67.7" font-size="12" text-anchor="middle" >14</text>
<text x="35.9" y="67.7" font-size="12" text-anchor="middle" >15</text>
<text x="35.9" y="154" font-size="12" text-anchor="middle" >16</text>
<text x="35.9" y="173.3" font-size="12" text-anchor="middle" >17</text>
<text x="35.9" y="204" font-size="12" text-anchor="middle" >18</text>
<text x="35.9" y="229.5" font-size="12" text-anchor="middle" >19</text>
<text x="35.9" y="255.2" font-size="12" text-anchor="middle" >20</text>
<text x="35.9" y="277.4" font-size="12" text-anchor="middle" >21</text>
<text x="35.9" y="300.1" font-size="12" text-anchor="middle" >22</text>
<text x="35.9" y="338.5" font-size="12" text-anchor="middle" >23</text>
<text x="35.9" y="374.8" font-size="12" text-anchor="middle" >24</text>
<text x="35.9" y="418.9" font-size="12" text-anchor="middle" >25</text>
<text x="35.9" y="458.4" font-size="12" text-anchor="middle" >26</text>
<text x="35.9" y="488.6" font-size="12" text-anchor="middle" >27</text>
<text x="35.9" y="540.8" font-size="12" text-anchor="middle" >28</text>
<text x="35.9" y="581.4" font-size="12" text-anchor="middle" >29</text>
<text x="35.9" y="624.8" font-size="12" text-anchor="middle" >30</text>
<text x="35.9" y="665.2" font-size="12" text-anchor="middle" >31</text>
<text x="35.9" y="692.6" font-size="12" text-anchor="middle" >32</text>
<text x="35.9" y="722.7" font-size="12" text-anchor="middle" >33</text>
<text x="35.9" y="833.2" font-size="12" text-anchor="middle" >34</text>
<text x="35.9" y="871" font-size="12" text-anchor="middle" >35</text>
<text x="35.9" y="1003.8" font-size="12" text-anchor="middle" >36</text>
<text x="169.5" y="87.4" font-size="12" text-anchor="middle" >12</text>
<text x="189" y="100.5" font-size="12" text-anchor="middle" >11</text>
<text x="216.4" y="116.7" font-size="12" text-anchor="middle" >10</text>
<text x="244.8" y="135.9" font-size="12" text-anchor="middle" >9</text>
<text x="288.3" y="161.9" font-size="12" text-anchor="middle" >8</text>
<text x="349.6" y="199.9" font-size="12" text-anchor="middle" >7</text>
<text x="393.4" y="225.9" font-size="12" text-anchor="middle" >6</text>
<text x="462.5" y="268" font-size="12" text-anchor="middle" >5</text>
<text x="484.7" y="282.2" font-size="12" text-anchor="middle" >4</text>
<text x="511" y="298" font-size="12" text-anchor="middle" >3</text>
<text x="551" y="322" font-size="12" text-anchor="middle" >2</text>
<text x="636" y="375.1" font-size="12" text-anchor="middle" >1</text>
<text x="462" y="493.2" font-size="12" text-anchor="middle" >37</text>
<text x="355" y="641.3" font-size="12" text-anchor="middle" >38</text>
<text x="444.8" y="628.5" font-size="12" text-anchor="middle" >39</text>
<text x="444.8" y="655.5" font-size="12" text-anchor="middle" >40</text>
<text x="444.8" y="698" font-size="12" text-anchor="middle" >41</text>
<text x="513" y="739.5" font-size="12" text-anchor="middle" >43</text>
<text x="535.7" y="726.3" font-size="12" text-anchor="middle" >44</text>
<text x="561.6" y="710.5" font-size="12" text-anchor="middle" >45</text>
<text x="592.5" y="691.8" font-size="12" text-anchor="middle" >46</text>
<text x="692.7" y="801.4" font-size="12" text-anchor="middle" >47</text>
<text x="692.7" y="875.3" font-size="12" text-anchor="middle" >48</text>
<text x="191.6" y="837.8" font-size="12" text-anchor="middle" >49</text>
<text x="277.5" y="837.3" font-size="12" text-anchor="middle" >50</text>
<text x="350" y="881.2" font-size="12" text-anchor="middle" >51</text>
<text x="385.4" y="901.8" font-size="12" text-anchor="middle" >52</text>
<text x="277.5" y="967.4" font-size="12" text-anchor="middle" >53</text>
<text x="489.3" y="967.9" font-size="12" text-anchor="middle" >54</text>
<text x="570.3" y="967.9" font-size="12" text-anchor="middle" >55</text>
</svg>
</body></html>
